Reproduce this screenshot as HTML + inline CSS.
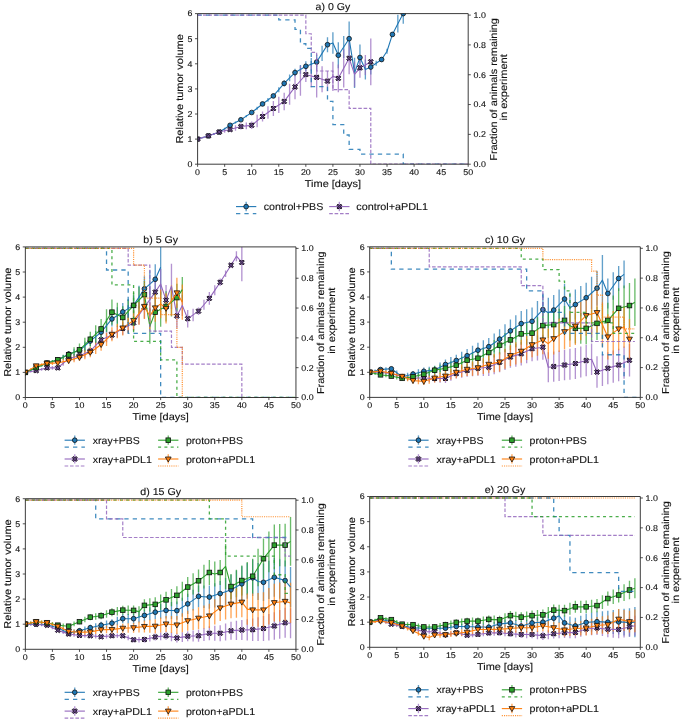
<!DOCTYPE html>
<html><head><meta charset="utf-8"><style>html,body{margin:0;padding:0;background:#fff;overflow:hidden}svg{display:block;filter:blur(0.3px)}text{font-family:"Liberation Sans",sans-serif}</style></head>
<body>
<svg width="685" height="722" viewBox="0 0 685 722" font-family="Liberation Sans, sans-serif" text-rendering="geometricPrecision">
<rect width="685" height="722" fill="#fff"/>
<clipPath id="clip0"><rect x="197.60" y="13.60" width="270.60" height="150.60"/></clipPath>
<g clip-path="url(#clip0)">
<path d="M197.60,138.60V139.60M203.01,136.89V138.05M208.42,135.18V136.49M213.84,133.23V134.68M219.25,131.27V132.88M224.66,127.80V129.56M230.07,124.34V126.25M235.48,121.50V123.56M240.90,118.67V120.88M246.31,114.95V117.31M251.72,111.24V113.75M257.13,106.78V109.67M262.54,102.33V105.59M267.96,98.12V101.76M273.37,93.92V97.94M278.78,87.14V92.16M284.19,80.37V86.39M289.60,74.59V81.37M295.02,68.82V76.35M300.43,65.06V73.84M305.84,61.29V71.33M311.25,57.90V70.45M316.66,54.51V69.57M322.08,45.85V60.91M327.49,37.19V52.25M332.90,32.17V53.76M338.31,42.21V68.32M343.72,35.94V58.03M349.14,21.38V56.02M354.55,57.78V87.90M359.96,44.47V70.58M365.37,59.53V79.61M370.78,59.53V74.59M376.20,60.79V65.81M381.61,57.02V62.04M387.02,48.74V53.76M392.43,31.92V36.94M397.84,14.86V32.43M403.26,3.56V23.64" stroke="#1f77b4" stroke-width="1.35" stroke-opacity="0.7" fill="none"/>
<path d="M197.60,138.60V139.60M203.01,136.78V138.16M208.42,134.96V136.72M213.84,132.89V135.02M219.25,130.82V133.33M224.66,128.93V132.70M230.07,127.05V132.07M235.48,125.29V130.82M240.90,123.54V129.56M246.31,122.53V129.31M251.72,121.53V129.06M257.13,114.63V127.18M262.54,111.49V121.53M267.96,106.22V118.77M273.37,100.95V116.01M278.78,96.81V113.12M284.19,92.66V110.23M289.60,83.63V104.71M295.02,74.59V99.19M300.43,65.68V95.80M305.84,67.06V82.12M311.25,64.68V87.27M316.66,57.27V97.43M322.08,66.18V92.29M327.49,71.08V91.16M332.90,61.79V90.91M338.31,64.55V92.16M343.72,49.24V87.39M349.14,42.21V74.34M354.55,61.79V86.89M359.96,57.78V77.86M365.37,55.01V75.09M370.78,38.45V85.13" stroke="#9467bd" stroke-width="1.35" stroke-opacity="0.7" fill="none"/>
<polyline points="197.60,139.10 203.01,137.47 208.42,135.84 213.84,133.95 219.25,132.07 224.66,128.68 230.07,125.29 235.48,122.53 240.90,119.77 246.31,116.13 251.72,112.49 257.13,108.23 262.54,103.96 267.96,99.94 273.37,95.93 278.78,89.65 284.19,83.38 289.60,77.98 295.02,72.58 300.43,69.45 305.84,66.31 311.25,64.18 316.66,62.04 322.08,53.38 327.49,44.72 332.90,42.97 338.31,55.27 343.72,46.98 349.14,38.70 354.55,72.84 359.96,57.52 365.37,69.57 370.78,67.06 376.20,63.30 381.61,59.53 387.02,51.25 392.43,34.43 397.84,23.64 403.26,13.60" stroke="#1f77b4" stroke-width="1.1" fill="none" stroke-linejoin="round"/>
<circle cx="197.60" cy="139.10" r="2.35" fill="#1f77b4" stroke="#111" stroke-width="0.8"/><circle cx="208.42" cy="135.84" r="2.35" fill="#1f77b4" stroke="#111" stroke-width="0.8"/><circle cx="219.25" cy="132.07" r="2.35" fill="#1f77b4" stroke="#111" stroke-width="0.8"/><circle cx="230.07" cy="125.29" r="2.35" fill="#1f77b4" stroke="#111" stroke-width="0.8"/><circle cx="240.90" cy="119.77" r="2.35" fill="#1f77b4" stroke="#111" stroke-width="0.8"/><circle cx="251.72" cy="112.49" r="2.35" fill="#1f77b4" stroke="#111" stroke-width="0.8"/><circle cx="262.54" cy="103.96" r="2.35" fill="#1f77b4" stroke="#111" stroke-width="0.8"/><circle cx="273.37" cy="95.93" r="2.35" fill="#1f77b4" stroke="#111" stroke-width="0.8"/><circle cx="284.19" cy="83.38" r="2.35" fill="#1f77b4" stroke="#111" stroke-width="0.8"/><circle cx="295.02" cy="72.58" r="2.35" fill="#1f77b4" stroke="#111" stroke-width="0.8"/><circle cx="305.84" cy="66.31" r="2.35" fill="#1f77b4" stroke="#111" stroke-width="0.8"/><circle cx="316.66" cy="62.04" r="2.35" fill="#1f77b4" stroke="#111" stroke-width="0.8"/><circle cx="327.49" cy="44.72" r="2.35" fill="#1f77b4" stroke="#111" stroke-width="0.8"/><circle cx="338.31" cy="55.27" r="2.35" fill="#1f77b4" stroke="#111" stroke-width="0.8"/><circle cx="349.14" cy="38.70" r="2.35" fill="#1f77b4" stroke="#111" stroke-width="0.8"/><circle cx="359.96" cy="57.52" r="2.35" fill="#1f77b4" stroke="#111" stroke-width="0.8"/><circle cx="370.78" cy="67.06" r="2.35" fill="#1f77b4" stroke="#111" stroke-width="0.8"/><circle cx="381.61" cy="59.53" r="2.35" fill="#1f77b4" stroke="#111" stroke-width="0.8"/><circle cx="392.43" cy="34.43" r="2.35" fill="#1f77b4" stroke="#111" stroke-width="0.8"/><circle cx="403.26" cy="13.60" r="2.35" fill="#1f77b4" stroke="#111" stroke-width="0.8"/>
<polyline points="197.60,139.10 203.01,137.47 208.42,135.84 213.84,133.95 219.25,132.07 224.66,130.82 230.07,129.56 235.48,128.06 240.90,126.55 246.31,125.92 251.72,125.29 257.13,120.90 262.54,116.51 267.96,112.49 273.37,108.48 278.78,104.96 284.19,101.45 289.60,94.17 295.02,86.89 300.43,80.74 305.84,74.59 311.25,75.97 316.66,77.35 322.08,79.24 327.49,81.12 332.90,76.35 338.31,78.36 343.72,68.32 349.14,58.28 354.55,74.34 359.96,67.82 365.37,65.05 370.78,61.79" stroke="#9467bd" stroke-width="1.1" fill="none" stroke-linejoin="round"/>
<path d="M196.20,136.65L197.60,138.05L199.00,136.65L200.05,137.70L198.65,139.10L200.05,140.50L199.00,141.55L197.60,140.15L196.20,141.55L195.15,140.50L196.55,139.10L195.15,137.70Z" fill="#6a4a8e" stroke="#1a1020" stroke-width="1.0" stroke-linejoin="round"/><path d="M207.02,133.39L208.42,134.79L209.82,133.39L210.87,134.44L209.47,135.84L210.87,137.24L209.82,138.29L208.42,136.89L207.02,138.29L205.97,137.24L207.37,135.84L205.97,134.44Z" fill="#6a4a8e" stroke="#1a1020" stroke-width="1.0" stroke-linejoin="round"/><path d="M217.85,129.62L219.25,131.02L220.65,129.62L221.70,130.67L220.30,132.07L221.70,133.47L220.65,134.52L219.25,133.12L217.85,134.52L216.80,133.47L218.20,132.07L216.80,130.67Z" fill="#6a4a8e" stroke="#1a1020" stroke-width="1.0" stroke-linejoin="round"/><path d="M228.67,127.11L230.07,128.51L231.47,127.11L232.52,128.16L231.12,129.56L232.52,130.96L231.47,132.01L230.07,130.61L228.67,132.01L227.62,130.96L229.02,129.56L227.62,128.16Z" fill="#6a4a8e" stroke="#1a1020" stroke-width="1.0" stroke-linejoin="round"/><path d="M239.50,124.10L240.90,125.50L242.30,124.10L243.35,125.15L241.95,126.55L243.35,127.95L242.30,129.00L240.90,127.60L239.50,129.00L238.45,127.95L239.85,126.55L238.45,125.15Z" fill="#6a4a8e" stroke="#1a1020" stroke-width="1.0" stroke-linejoin="round"/><path d="M250.32,122.84L251.72,124.24L253.12,122.84L254.17,123.89L252.77,125.29L254.17,126.69L253.12,127.74L251.72,126.34L250.32,127.74L249.27,126.69L250.67,125.29L249.27,123.89Z" fill="#6a4a8e" stroke="#1a1020" stroke-width="1.0" stroke-linejoin="round"/><path d="M261.14,114.06L262.54,115.46L263.94,114.06L264.99,115.11L263.59,116.51L264.99,117.91L263.94,118.96L262.54,117.56L261.14,118.96L260.09,117.91L261.49,116.51L260.09,115.11Z" fill="#6a4a8e" stroke="#1a1020" stroke-width="1.0" stroke-linejoin="round"/><path d="M271.97,106.03L273.37,107.43L274.77,106.03L275.82,107.08L274.42,108.48L275.82,109.88L274.77,110.93L273.37,109.53L271.97,110.93L270.92,109.88L272.32,108.48L270.92,107.08Z" fill="#6a4a8e" stroke="#1a1020" stroke-width="1.0" stroke-linejoin="round"/><path d="M282.79,99.00L284.19,100.40L285.59,99.00L286.64,100.05L285.24,101.45L286.64,102.85L285.59,103.90L284.19,102.50L282.79,103.90L281.74,102.85L283.14,101.45L281.74,100.05Z" fill="#6a4a8e" stroke="#1a1020" stroke-width="1.0" stroke-linejoin="round"/><path d="M293.62,84.44L295.02,85.84L296.42,84.44L297.47,85.49L296.07,86.89L297.47,88.29L296.42,89.34L295.02,87.94L293.62,89.34L292.57,88.29L293.97,86.89L292.57,85.49Z" fill="#6a4a8e" stroke="#1a1020" stroke-width="1.0" stroke-linejoin="round"/><path d="M304.44,72.14L305.84,73.54L307.24,72.14L308.29,73.19L306.89,74.59L308.29,75.99L307.24,77.04L305.84,75.64L304.44,77.04L303.39,75.99L304.79,74.59L303.39,73.19Z" fill="#6a4a8e" stroke="#1a1020" stroke-width="1.0" stroke-linejoin="round"/><path d="M315.26,74.90L316.66,76.30L318.06,74.90L319.11,75.95L317.71,77.35L319.11,78.75L318.06,79.80L316.66,78.40L315.26,79.80L314.21,78.75L315.61,77.35L314.21,75.95Z" fill="#6a4a8e" stroke="#1a1020" stroke-width="1.0" stroke-linejoin="round"/><path d="M326.09,78.67L327.49,80.07L328.89,78.67L329.94,79.72L328.54,81.12L329.94,82.52L328.89,83.57L327.49,82.17L326.09,83.57L325.04,82.52L326.44,81.12L325.04,79.72Z" fill="#6a4a8e" stroke="#1a1020" stroke-width="1.0" stroke-linejoin="round"/><path d="M336.91,75.91L338.31,77.31L339.71,75.91L340.76,76.96L339.36,78.36L340.76,79.76L339.71,80.81L338.31,79.41L336.91,80.81L335.86,79.76L337.26,78.36L335.86,76.96Z" fill="#6a4a8e" stroke="#1a1020" stroke-width="1.0" stroke-linejoin="round"/><path d="M347.74,55.83L349.14,57.23L350.54,55.83L351.59,56.88L350.19,58.28L351.59,59.68L350.54,60.73L349.14,59.33L347.74,60.73L346.69,59.68L348.09,58.28L346.69,56.88Z" fill="#6a4a8e" stroke="#1a1020" stroke-width="1.0" stroke-linejoin="round"/><path d="M358.56,65.37L359.96,66.77L361.36,65.37L362.41,66.42L361.01,67.82L362.41,69.22L361.36,70.27L359.96,68.87L358.56,70.27L357.51,69.22L358.91,67.82L357.51,66.42Z" fill="#6a4a8e" stroke="#1a1020" stroke-width="1.0" stroke-linejoin="round"/><path d="M369.38,59.34L370.78,60.74L372.18,59.34L373.23,60.39L371.83,61.79L373.23,63.19L372.18,64.24L370.78,62.84L369.38,64.24L368.33,63.19L369.73,61.79L368.33,60.39Z" fill="#6a4a8e" stroke="#1a1020" stroke-width="1.0" stroke-linejoin="round"/>
<path d="M197.60,15.10H278.78V19.87H295.02V29.41H300.43V43.73H305.84V48.35H311.25V86.67H327.49V101.28H332.90V124.54H343.72V134.98H349.14V149.29H359.96V154.06H403.26V164.20H468.20V164.20" stroke="#1f77b4" stroke-width="1.3" stroke-dasharray="4.3 4.1" fill="none" stroke-opacity="0.85"/>
<path d="M197.60,15.10H305.84V33.74H311.25V52.38H316.66V71.01H332.90V89.65H349.14V108.29H370.78V164.20H468.20V164.20" stroke="#9467bd" stroke-width="1.2" stroke-dasharray="3.6 1.8" fill="none" stroke-opacity="0.85"/>
</g>
<path d="M197.60,13.60V164.20H468.20V13.60Z" fill="none" stroke="#262626" stroke-width="0.9"/>
<path d="M195.00,164.20H197.60M195.00,139.10H197.60M195.00,114.00H197.60M195.00,88.90H197.60M195.00,63.80H197.60M195.00,38.70H197.60M195.00,13.60H197.60M197.60,164.20V166.80M224.66,164.20V166.80M251.72,164.20V166.80M278.78,164.20V166.80M305.84,164.20V166.80M332.90,164.20V166.80M359.96,164.20V166.80M387.02,164.20V166.80M414.08,164.20V166.80M441.14,164.20V166.80M468.20,164.20V166.80M468.20,164.20H470.80M468.20,134.38H470.80M468.20,104.56H470.80M468.20,74.74H470.80M468.20,44.92H470.80M468.20,15.10H470.80" stroke="#262626" stroke-width="0.8"/>
<text x="192.50" y="167.05" font-size="8.3" text-anchor="end" textLength="4.93" lengthAdjust="spacingAndGlyphs" fill="#111" stroke="#111" stroke-width="0.12">0</text>
<text x="192.50" y="141.95" font-size="8.3" text-anchor="end" textLength="4.93" lengthAdjust="spacingAndGlyphs" fill="#111" stroke="#111" stroke-width="0.12">1</text>
<text x="192.50" y="116.85" font-size="8.3" text-anchor="end" textLength="4.93" lengthAdjust="spacingAndGlyphs" fill="#111" stroke="#111" stroke-width="0.12">2</text>
<text x="192.50" y="91.75" font-size="8.3" text-anchor="end" textLength="4.93" lengthAdjust="spacingAndGlyphs" fill="#111" stroke="#111" stroke-width="0.12">3</text>
<text x="192.50" y="66.65" font-size="8.3" text-anchor="end" textLength="4.93" lengthAdjust="spacingAndGlyphs" fill="#111" stroke="#111" stroke-width="0.12">4</text>
<text x="192.50" y="41.55" font-size="8.3" text-anchor="end" textLength="4.93" lengthAdjust="spacingAndGlyphs" fill="#111" stroke="#111" stroke-width="0.12">5</text>
<text x="192.50" y="16.45" font-size="8.3" text-anchor="end" textLength="4.93" lengthAdjust="spacingAndGlyphs" fill="#111" stroke="#111" stroke-width="0.12">6</text>
<text x="197.60" y="175.10" font-size="8.3" text-anchor="middle" textLength="4.93" lengthAdjust="spacingAndGlyphs" fill="#111" stroke="#111" stroke-width="0.12">0</text>
<text x="224.66" y="175.10" font-size="8.3" text-anchor="middle" textLength="4.93" lengthAdjust="spacingAndGlyphs" fill="#111" stroke="#111" stroke-width="0.12">5</text>
<text x="251.72" y="175.10" font-size="8.3" text-anchor="middle" textLength="9.86" lengthAdjust="spacingAndGlyphs" fill="#111" stroke="#111" stroke-width="0.12">10</text>
<text x="278.78" y="175.10" font-size="8.3" text-anchor="middle" textLength="9.86" lengthAdjust="spacingAndGlyphs" fill="#111" stroke="#111" stroke-width="0.12">15</text>
<text x="305.84" y="175.10" font-size="8.3" text-anchor="middle" textLength="9.86" lengthAdjust="spacingAndGlyphs" fill="#111" stroke="#111" stroke-width="0.12">20</text>
<text x="332.90" y="175.10" font-size="8.3" text-anchor="middle" textLength="9.86" lengthAdjust="spacingAndGlyphs" fill="#111" stroke="#111" stroke-width="0.12">25</text>
<text x="359.96" y="175.10" font-size="8.3" text-anchor="middle" textLength="9.86" lengthAdjust="spacingAndGlyphs" fill="#111" stroke="#111" stroke-width="0.12">30</text>
<text x="387.02" y="175.10" font-size="8.3" text-anchor="middle" textLength="9.86" lengthAdjust="spacingAndGlyphs" fill="#111" stroke="#111" stroke-width="0.12">35</text>
<text x="414.08" y="175.10" font-size="8.3" text-anchor="middle" textLength="9.86" lengthAdjust="spacingAndGlyphs" fill="#111" stroke="#111" stroke-width="0.12">40</text>
<text x="441.14" y="175.10" font-size="8.3" text-anchor="middle" textLength="9.86" lengthAdjust="spacingAndGlyphs" fill="#111" stroke="#111" stroke-width="0.12">45</text>
<text x="468.20" y="175.10" font-size="8.3" text-anchor="middle" textLength="9.86" lengthAdjust="spacingAndGlyphs" fill="#111" stroke="#111" stroke-width="0.12">50</text>
<text x="473.50" y="167.05" font-size="8.3" text-anchor="start" textLength="12.33" lengthAdjust="spacingAndGlyphs" fill="#111" stroke="#111" stroke-width="0.12">0.0</text>
<text x="473.50" y="137.23" font-size="8.3" text-anchor="start" textLength="12.33" lengthAdjust="spacingAndGlyphs" fill="#111" stroke="#111" stroke-width="0.12">0.2</text>
<text x="473.50" y="107.41" font-size="8.3" text-anchor="start" textLength="12.33" lengthAdjust="spacingAndGlyphs" fill="#111" stroke="#111" stroke-width="0.12">0.4</text>
<text x="473.50" y="77.59" font-size="8.3" text-anchor="start" textLength="12.33" lengthAdjust="spacingAndGlyphs" fill="#111" stroke="#111" stroke-width="0.12">0.6</text>
<text x="473.50" y="47.77" font-size="8.3" text-anchor="start" textLength="12.33" lengthAdjust="spacingAndGlyphs" fill="#111" stroke="#111" stroke-width="0.12">0.8</text>
<text x="473.50" y="17.95" font-size="8.3" text-anchor="start" textLength="12.33" lengthAdjust="spacingAndGlyphs" fill="#111" stroke="#111" stroke-width="0.12">1.0</text>
<text x="332.90" y="9.90" font-size="10.0" text-anchor="middle" textLength="34.60" lengthAdjust="spacingAndGlyphs" fill="#111" stroke="#111" stroke-width="0.12">a) 0 Gy</text>
<text x="332.90" y="186.80" font-size="10.0" text-anchor="middle" textLength="56.10" lengthAdjust="spacingAndGlyphs" fill="#111" stroke="#111" stroke-width="0.12">Time [days]</text>
<text x="183.00" y="88.90" font-size="10.0" text-anchor="middle" textLength="109.34" lengthAdjust="spacingAndGlyphs" fill="#111" stroke="#111" stroke-width="0.12" transform="rotate(-90 183.00 88.90)">Relative tumor volume</text>
<text x="496.60" y="89.40" font-size="10.0" text-anchor="middle" textLength="142.67" lengthAdjust="spacingAndGlyphs" fill="#111" stroke="#111" stroke-width="0.12" transform="rotate(-90 496.60 89.40)">Fraction of animals remaining</text>
<text x="507.30" y="87.40" font-size="10.0" text-anchor="middle" textLength="66.25" lengthAdjust="spacingAndGlyphs" fill="#111" stroke="#111" stroke-width="0.12" transform="rotate(-90 507.30 87.40)">in experiment</text>
<clipPath id="clip1"><rect x="25.35" y="246.90" width="270.60" height="150.60"/></clipPath>
<g clip-path="url(#clip1)">
<path d="M25.35,371.65V373.15M30.76,369.01V370.77M36.17,366.38V368.38M41.59,364.12V366.38M47.00,361.86V364.37M52.41,360.10V362.86M57.82,358.34V361.36M63.23,354.96V358.97M68.65,351.57V356.59M74.06,349.18V355.46M79.47,346.80V354.33M84.88,341.40V350.19M90.29,336.00V346.05M95.71,330.99V342.28M101.12,325.97V338.51M106.53,318.69V332.49M111.94,311.41V326.47M117.35,307.27V323.58M122.77,303.12V320.69M128.18,299.23V318.06M133.59,295.34V315.42M139.00,285.81V308.39M144.41,276.27V301.37M149.83,270.24V297.85M155.24,264.22V294.34M160.65,239.62V294.84" stroke="#1f77b4" stroke-width="1.35" stroke-opacity="0.7" fill="none"/>
<path d="M25.35,371.65V373.15M30.76,370.56V372.48M36.17,369.47V371.81M41.59,367.88V370.64M47.00,366.29V369.47M52.41,366.08V369.68M57.82,365.87V369.89M63.23,360.79V365.69M68.65,355.71V361.48M74.06,353.89V360.54M79.47,352.07V359.60M84.88,349.48V357.42M90.29,346.88V355.25M95.71,341.02V349.81M101.12,335.17V344.37M106.53,332.57V342.20M111.94,329.98V340.02M117.35,326.09V337.39M122.77,322.20V334.75M128.18,318.81V332.62M133.59,315.42V330.48M139.00,305.63V324.46M144.41,295.85V318.44M149.83,286.43V312.79M155.24,277.02V307.14M160.65,268.99V299.11M166.06,285.05V315.17M171.47,263.72V308.90M176.89,303.38V328.48M182.30,294.72V316.05M187.71,309.90V327.47M193.12,308.65V321.20M198.53,307.39V314.92M203.95,299.74V309.78M209.36,292.08V304.63M214.77,285.30V295.34M220.18,278.53V286.06M225.59,270.62V276.89M231.01,262.71V267.73M236.42,251.17V261.21M241.83,243.64V281.29" stroke="#9467bd" stroke-width="1.35" stroke-opacity="0.7" fill="none"/>
<path d="M25.35,371.65V373.15M30.76,369.14V370.89M36.17,366.63V368.63M41.59,364.24V366.50M47.00,361.86V364.37M52.41,360.10V362.86M57.82,358.34V361.36M63.23,354.70V359.98M68.65,351.06V358.60M74.06,347.30V357.34M79.47,343.54V356.09M84.88,337.64V351.44M90.29,331.74V346.80M95.71,325.34V342.91M101.12,318.94V339.02M106.53,309.27V331.86M111.94,299.61V324.71M117.35,302.87V326.72M122.77,306.14V328.73M128.18,299.48V323.33M133.59,292.83V317.93M139.00,286.81V313.16M144.41,280.79V308.39M149.83,308.65V343.79M155.24,292.08V332.24M160.65,291.70V326.84M166.06,291.33V321.45M171.47,287.56V316.43M176.89,283.80V311.41M182.30,277.02V302.12" stroke="#2ca02c" stroke-width="1.35" stroke-opacity="0.7" fill="none"/>
<path d="M25.35,371.65V373.15M30.76,368.17V370.10M36.17,364.70V367.05M41.59,363.24V366.00M47.00,361.77V364.95M52.41,361.31V364.91M57.82,360.85V364.87M63.23,359.29V364.18M68.65,357.72V363.49M74.06,355.65V362.30M79.47,353.57V361.11M84.88,350.44V359.22M90.29,347.30V357.34M95.71,342.78V354.08M101.12,338.26V350.81M106.53,332.80V345.98M111.94,327.35V341.15M117.35,323.89V338.33M122.77,320.44V335.50M128.18,315.42V332.99M133.59,310.40V330.48M139.00,302.12V324.71M144.41,293.84V318.94M149.83,302.75V329.10M155.24,294.09V321.70M160.65,289.44V318.31M166.06,293.34V323.46M171.47,285.55V315.67M176.89,277.77V307.89M182.30,284.55V319.69" stroke="#ff7f0e" stroke-width="1.35" stroke-opacity="0.7" fill="none"/>
<polyline points="25.35,372.40 30.76,369.89 36.17,367.38 41.59,365.25 47.00,363.11 52.41,361.48 57.82,359.85 63.23,356.96 68.65,354.08 74.06,352.32 79.47,350.56 84.88,345.79 90.29,341.02 95.71,336.63 101.12,332.24 106.53,325.59 111.94,318.94 117.35,315.42 122.77,311.91 128.18,308.65 133.59,305.38 139.00,297.10 144.41,288.82 149.83,284.05 155.24,279.28 160.65,267.23" stroke="#1f77b4" stroke-width="1.1" fill="none" stroke-linejoin="round"/>
<circle cx="25.35" cy="372.40" r="2.35" fill="#1f77b4" stroke="#111" stroke-width="0.8"/><circle cx="36.17" cy="367.38" r="2.35" fill="#1f77b4" stroke="#111" stroke-width="0.8"/><circle cx="47.00" cy="363.11" r="2.35" fill="#1f77b4" stroke="#111" stroke-width="0.8"/><circle cx="57.82" cy="359.85" r="2.35" fill="#1f77b4" stroke="#111" stroke-width="0.8"/><circle cx="68.65" cy="354.08" r="2.35" fill="#1f77b4" stroke="#111" stroke-width="0.8"/><circle cx="79.47" cy="350.56" r="2.35" fill="#1f77b4" stroke="#111" stroke-width="0.8"/><circle cx="90.29" cy="341.02" r="2.35" fill="#1f77b4" stroke="#111" stroke-width="0.8"/><circle cx="101.12" cy="332.24" r="2.35" fill="#1f77b4" stroke="#111" stroke-width="0.8"/><circle cx="111.94" cy="318.94" r="2.35" fill="#1f77b4" stroke="#111" stroke-width="0.8"/><circle cx="122.77" cy="311.91" r="2.35" fill="#1f77b4" stroke="#111" stroke-width="0.8"/><circle cx="133.59" cy="305.38" r="2.35" fill="#1f77b4" stroke="#111" stroke-width="0.8"/><circle cx="144.41" cy="288.82" r="2.35" fill="#1f77b4" stroke="#111" stroke-width="0.8"/><circle cx="155.24" cy="279.28" r="2.35" fill="#1f77b4" stroke="#111" stroke-width="0.8"/>
<polyline points="25.35,372.40 30.76,371.52 36.17,370.64 41.59,369.26 47.00,367.88 52.41,367.88 57.82,367.88 63.23,363.24 68.65,358.60 74.06,357.21 79.47,355.83 84.88,353.45 90.29,351.06 95.71,345.42 101.12,339.77 106.53,337.39 111.94,335.00 117.35,331.74 122.77,328.48 128.18,325.71 133.59,322.95 139.00,315.05 144.41,307.14 149.83,299.61 155.24,292.08 160.65,284.05 166.06,300.11 171.47,286.31 176.89,315.93 182.30,305.38 187.71,318.69 193.12,314.92 198.53,311.16 203.95,304.76 209.36,298.36 214.77,290.32 220.18,282.29 225.59,273.76 231.01,265.22 236.42,256.19 241.83,262.46" stroke="#9467bd" stroke-width="1.1" fill="none" stroke-linejoin="round"/>
<path d="M23.95,369.95L25.35,371.35L26.75,369.95L27.80,371.00L26.40,372.40L27.80,373.80L26.75,374.85L25.35,373.45L23.95,374.85L22.90,373.80L24.30,372.40L22.90,371.00Z" fill="#6a4a8e" stroke="#1a1020" stroke-width="1.0" stroke-linejoin="round"/><path d="M34.77,368.19L36.17,369.59L37.57,368.19L38.62,369.24L37.22,370.64L38.62,372.04L37.57,373.09L36.17,371.69L34.77,373.09L33.72,372.04L35.12,370.64L33.72,369.24Z" fill="#6a4a8e" stroke="#1a1020" stroke-width="1.0" stroke-linejoin="round"/><path d="M45.60,365.43L47.00,366.83L48.40,365.43L49.45,366.48L48.05,367.88L49.45,369.28L48.40,370.33L47.00,368.93L45.60,370.33L44.55,369.28L45.95,367.88L44.55,366.48Z" fill="#6a4a8e" stroke="#1a1020" stroke-width="1.0" stroke-linejoin="round"/><path d="M56.42,365.43L57.82,366.83L59.22,365.43L60.27,366.48L58.87,367.88L60.27,369.28L59.22,370.33L57.82,368.93L56.42,370.33L55.37,369.28L56.77,367.88L55.37,366.48Z" fill="#6a4a8e" stroke="#1a1020" stroke-width="1.0" stroke-linejoin="round"/><path d="M67.25,356.15L68.65,357.55L70.05,356.15L71.10,357.20L69.70,358.60L71.10,360.00L70.05,361.05L68.65,359.65L67.25,361.05L66.20,360.00L67.60,358.60L66.20,357.20Z" fill="#6a4a8e" stroke="#1a1020" stroke-width="1.0" stroke-linejoin="round"/><path d="M78.07,353.38L79.47,354.78L80.87,353.38L81.92,354.43L80.52,355.83L81.92,357.23L80.87,358.28L79.47,356.88L78.07,358.28L77.02,357.23L78.42,355.83L77.02,354.43Z" fill="#6a4a8e" stroke="#1a1020" stroke-width="1.0" stroke-linejoin="round"/><path d="M88.89,348.62L90.29,350.01L91.69,348.62L92.74,349.67L91.34,351.06L92.74,352.46L91.69,353.51L90.29,352.12L88.89,353.51L87.84,352.46L89.24,351.06L87.84,349.67Z" fill="#6a4a8e" stroke="#1a1020" stroke-width="1.0" stroke-linejoin="round"/><path d="M99.72,337.32L101.12,338.72L102.52,337.32L103.57,338.37L102.17,339.77L103.57,341.17L102.52,342.22L101.12,340.82L99.72,342.22L98.67,341.17L100.07,339.77L98.67,338.37Z" fill="#6a4a8e" stroke="#1a1020" stroke-width="1.0" stroke-linejoin="round"/><path d="M110.54,332.55L111.94,333.95L113.34,332.55L114.39,333.60L112.99,335.00L114.39,336.40L113.34,337.45L111.94,336.05L110.54,337.45L109.49,336.40L110.89,335.00L109.49,333.60Z" fill="#6a4a8e" stroke="#1a1020" stroke-width="1.0" stroke-linejoin="round"/><path d="M121.37,326.03L122.77,327.43L124.17,326.03L125.22,327.08L123.82,328.48L125.22,329.88L124.17,330.93L122.77,329.53L121.37,330.93L120.32,329.88L121.72,328.48L120.32,327.08Z" fill="#6a4a8e" stroke="#1a1020" stroke-width="1.0" stroke-linejoin="round"/><path d="M132.19,320.50L133.59,321.90L134.99,320.50L136.04,321.55L134.64,322.95L136.04,324.35L134.99,325.40L133.59,324.00L132.19,325.40L131.14,324.35L132.54,322.95L131.14,321.55Z" fill="#6a4a8e" stroke="#1a1020" stroke-width="1.0" stroke-linejoin="round"/><path d="M143.01,304.69L144.41,306.09L145.81,304.69L146.86,305.74L145.46,307.14L146.86,308.54L145.81,309.59L144.41,308.19L143.01,309.59L141.96,308.54L143.36,307.14L141.96,305.74Z" fill="#6a4a8e" stroke="#1a1020" stroke-width="1.0" stroke-linejoin="round"/><path d="M153.84,289.63L155.24,291.03L156.64,289.63L157.69,290.68L156.29,292.08L157.69,293.48L156.64,294.53L155.24,293.13L153.84,294.53L152.79,293.48L154.19,292.08L152.79,290.68Z" fill="#6a4a8e" stroke="#1a1020" stroke-width="1.0" stroke-linejoin="round"/><path d="M164.66,297.66L166.06,299.06L167.46,297.66L168.51,298.71L167.11,300.11L168.51,301.51L167.46,302.56L166.06,301.16L164.66,302.56L163.61,301.51L165.01,300.11L163.61,298.71Z" fill="#6a4a8e" stroke="#1a1020" stroke-width="1.0" stroke-linejoin="round"/><path d="M175.49,313.48L176.89,314.88L178.29,313.48L179.34,314.53L177.94,315.93L179.34,317.32L178.29,318.38L176.89,316.98L175.49,318.38L174.44,317.32L175.84,315.93L174.44,314.53Z" fill="#6a4a8e" stroke="#1a1020" stroke-width="1.0" stroke-linejoin="round"/><path d="M186.31,316.24L187.71,317.64L189.11,316.24L190.16,317.29L188.76,318.69L190.16,320.09L189.11,321.14L187.71,319.74L186.31,321.14L185.26,320.09L186.66,318.69L185.26,317.29Z" fill="#6a4a8e" stroke="#1a1020" stroke-width="1.0" stroke-linejoin="round"/><path d="M197.13,308.71L198.53,310.11L199.93,308.71L200.98,309.76L199.58,311.16L200.98,312.56L199.93,313.61L198.53,312.21L197.13,313.61L196.08,312.56L197.48,311.16L196.08,309.76Z" fill="#6a4a8e" stroke="#1a1020" stroke-width="1.0" stroke-linejoin="round"/><path d="M207.96,295.91L209.36,297.31L210.76,295.91L211.81,296.96L210.41,298.36L211.81,299.75L210.76,300.81L209.36,299.41L207.96,300.81L206.91,299.75L208.31,298.36L206.91,296.96Z" fill="#6a4a8e" stroke="#1a1020" stroke-width="1.0" stroke-linejoin="round"/><path d="M218.78,279.84L220.18,281.24L221.58,279.84L222.63,280.89L221.23,282.29L222.63,283.69L221.58,284.74L220.18,283.34L218.78,284.74L217.73,283.69L219.13,282.29L217.73,280.89Z" fill="#6a4a8e" stroke="#1a1020" stroke-width="1.0" stroke-linejoin="round"/><path d="M229.61,262.77L231.01,264.17L232.41,262.77L233.46,263.82L232.06,265.22L233.46,266.62L232.41,267.67L231.01,266.27L229.61,267.67L228.56,266.62L229.96,265.22L228.56,263.82Z" fill="#6a4a8e" stroke="#1a1020" stroke-width="1.0" stroke-linejoin="round"/><path d="M240.43,260.01L241.83,261.41L243.23,260.01L244.28,261.06L242.88,262.46L244.28,263.86L243.23,264.91L241.83,263.51L240.43,264.91L239.38,263.86L240.78,262.46L239.38,261.06Z" fill="#6a4a8e" stroke="#1a1020" stroke-width="1.0" stroke-linejoin="round"/>
<polyline points="25.35,372.40 30.76,370.02 36.17,367.63 41.59,365.37 47.00,363.11 52.41,361.48 57.82,359.85 63.23,357.34 68.65,354.83 74.06,352.32 79.47,349.81 84.88,344.54 90.29,339.27 95.71,334.12 101.12,328.98 106.53,320.57 111.94,312.16 117.35,314.80 122.77,317.43 128.18,311.41 133.59,305.38 139.00,299.99 144.41,294.59 149.83,326.22 155.24,312.16 160.65,309.27 166.06,306.39 171.47,301.99 176.89,297.60 182.30,289.57" stroke="#2ca02c" stroke-width="1.1" fill="none" stroke-linejoin="round"/>
<rect x="23.05" y="370.10" width="4.60" height="4.60" fill="#2ca02c" stroke="#111" stroke-width="0.8"/><rect x="33.87" y="365.33" width="4.60" height="4.60" fill="#2ca02c" stroke="#111" stroke-width="0.8"/><rect x="44.70" y="360.81" width="4.60" height="4.60" fill="#2ca02c" stroke="#111" stroke-width="0.8"/><rect x="55.52" y="357.55" width="4.60" height="4.60" fill="#2ca02c" stroke="#111" stroke-width="0.8"/><rect x="66.35" y="352.53" width="4.60" height="4.60" fill="#2ca02c" stroke="#111" stroke-width="0.8"/><rect x="77.17" y="347.51" width="4.60" height="4.60" fill="#2ca02c" stroke="#111" stroke-width="0.8"/><rect x="87.99" y="336.97" width="4.60" height="4.60" fill="#2ca02c" stroke="#111" stroke-width="0.8"/><rect x="98.82" y="326.68" width="4.60" height="4.60" fill="#2ca02c" stroke="#111" stroke-width="0.8"/><rect x="109.64" y="309.86" width="4.60" height="4.60" fill="#2ca02c" stroke="#111" stroke-width="0.8"/><rect x="120.47" y="315.13" width="4.60" height="4.60" fill="#2ca02c" stroke="#111" stroke-width="0.8"/><rect x="131.29" y="303.08" width="4.60" height="4.60" fill="#2ca02c" stroke="#111" stroke-width="0.8"/><rect x="142.11" y="292.29" width="4.60" height="4.60" fill="#2ca02c" stroke="#111" stroke-width="0.8"/><rect x="152.94" y="309.86" width="4.60" height="4.60" fill="#2ca02c" stroke="#111" stroke-width="0.8"/><rect x="163.76" y="304.09" width="4.60" height="4.60" fill="#2ca02c" stroke="#111" stroke-width="0.8"/><rect x="174.59" y="295.30" width="4.60" height="4.60" fill="#2ca02c" stroke="#111" stroke-width="0.8"/>
<polyline points="25.35,372.40 30.76,369.14 36.17,365.87 41.59,364.62 47.00,363.36 52.41,363.11 57.82,362.86 63.23,361.73 68.65,360.60 74.06,358.97 79.47,357.34 84.88,354.83 90.29,352.32 95.71,348.43 101.12,344.54 106.53,339.39 111.94,334.25 117.35,331.11 122.77,327.97 128.18,324.21 133.59,320.44 139.00,313.42 144.41,306.39 149.83,315.93 155.24,307.89 160.65,303.88 166.06,308.39 171.47,300.61 176.89,292.83 182.30,302.12" stroke="#ff7f0e" stroke-width="1.1" fill="none" stroke-linejoin="round"/>
<path d="M22.45,370.40L28.25,370.40L25.35,375.40Z" fill="#ff7f0e" stroke="#111" stroke-width="0.8" stroke-linejoin="miter"/><path d="M33.27,363.87L39.07,363.87L36.17,368.87Z" fill="#ff7f0e" stroke="#111" stroke-width="0.8" stroke-linejoin="miter"/><path d="M44.10,361.36L49.90,361.36L47.00,366.36Z" fill="#ff7f0e" stroke="#111" stroke-width="0.8" stroke-linejoin="miter"/><path d="M54.92,360.86L60.72,360.86L57.82,365.86Z" fill="#ff7f0e" stroke="#111" stroke-width="0.8" stroke-linejoin="miter"/><path d="M65.75,358.60L71.55,358.60L68.65,363.60Z" fill="#ff7f0e" stroke="#111" stroke-width="0.8" stroke-linejoin="miter"/><path d="M76.57,355.34L82.37,355.34L79.47,360.34Z" fill="#ff7f0e" stroke="#111" stroke-width="0.8" stroke-linejoin="miter"/><path d="M87.39,350.32L93.19,350.32L90.29,355.32Z" fill="#ff7f0e" stroke="#111" stroke-width="0.8" stroke-linejoin="miter"/><path d="M98.22,342.54L104.02,342.54L101.12,347.54Z" fill="#ff7f0e" stroke="#111" stroke-width="0.8" stroke-linejoin="miter"/><path d="M109.04,332.25L114.84,332.25L111.94,337.25Z" fill="#ff7f0e" stroke="#111" stroke-width="0.8" stroke-linejoin="miter"/><path d="M119.87,325.97L125.67,325.97L122.77,330.97Z" fill="#ff7f0e" stroke="#111" stroke-width="0.8" stroke-linejoin="miter"/><path d="M130.69,318.44L136.49,318.44L133.59,323.44Z" fill="#ff7f0e" stroke="#111" stroke-width="0.8" stroke-linejoin="miter"/><path d="M141.51,304.39L147.31,304.39L144.41,309.39Z" fill="#ff7f0e" stroke="#111" stroke-width="0.8" stroke-linejoin="miter"/><path d="M152.34,305.89L158.14,305.89L155.24,310.89Z" fill="#ff7f0e" stroke="#111" stroke-width="0.8" stroke-linejoin="miter"/><path d="M163.16,306.39L168.96,306.39L166.06,311.39Z" fill="#ff7f0e" stroke="#111" stroke-width="0.8" stroke-linejoin="miter"/><path d="M173.99,290.83L179.79,290.83L176.89,295.83Z" fill="#ff7f0e" stroke="#111" stroke-width="0.8" stroke-linejoin="miter"/>
<path d="M25.35,248.40H106.53V270.02H128.18V333.39H160.65V397.50H295.95V397.50" stroke="#1f77b4" stroke-width="1.3" stroke-dasharray="4.3 4.1" fill="none" stroke-opacity="0.85"/>
<path d="M25.35,248.40H128.18V265.10H149.83V331.15H171.47V347.40H182.30V364.10H241.83V397.50H295.95V397.50" stroke="#9467bd" stroke-width="1.2" stroke-dasharray="3.6 1.8" fill="none" stroke-opacity="0.85"/>
<path d="M25.35,248.40H111.94V284.93H133.59V341.29H160.65V359.93H176.89V397.50H295.95V397.50" stroke="#2ca02c" stroke-width="1.3" stroke-dasharray="3.0 3.3" fill="none" stroke-opacity="0.85"/>
<path d="M25.35,248.40H133.59V265.10H144.41V298.05H160.65V314.60H176.89V347.40H182.30V397.50H295.95V397.50" stroke="#ff7f0e" stroke-width="1.2" stroke-dasharray="1.1 1.1" fill="none" stroke-opacity="0.85"/>
</g>
<path d="M25.35,246.90V397.50H295.95V246.90Z" fill="none" stroke="#262626" stroke-width="0.9"/>
<path d="M22.75,397.50H25.35M22.75,372.40H25.35M22.75,347.30H25.35M22.75,322.20H25.35M22.75,297.10H25.35M22.75,272.00H25.35M22.75,246.90H25.35M25.35,397.50V400.10M52.41,397.50V400.10M79.47,397.50V400.10M106.53,397.50V400.10M133.59,397.50V400.10M160.65,397.50V400.10M187.71,397.50V400.10M214.77,397.50V400.10M241.83,397.50V400.10M268.89,397.50V400.10M295.95,397.50V400.10M295.95,397.50H298.55M295.95,367.68H298.55M295.95,337.86H298.55M295.95,308.04H298.55M295.95,278.22H298.55M295.95,248.40H298.55" stroke="#262626" stroke-width="0.8"/>
<text x="20.25" y="400.35" font-size="8.3" text-anchor="end" textLength="4.93" lengthAdjust="spacingAndGlyphs" fill="#111" stroke="#111" stroke-width="0.12">0</text>
<text x="20.25" y="375.25" font-size="8.3" text-anchor="end" textLength="4.93" lengthAdjust="spacingAndGlyphs" fill="#111" stroke="#111" stroke-width="0.12">1</text>
<text x="20.25" y="350.15" font-size="8.3" text-anchor="end" textLength="4.93" lengthAdjust="spacingAndGlyphs" fill="#111" stroke="#111" stroke-width="0.12">2</text>
<text x="20.25" y="325.05" font-size="8.3" text-anchor="end" textLength="4.93" lengthAdjust="spacingAndGlyphs" fill="#111" stroke="#111" stroke-width="0.12">3</text>
<text x="20.25" y="299.95" font-size="8.3" text-anchor="end" textLength="4.93" lengthAdjust="spacingAndGlyphs" fill="#111" stroke="#111" stroke-width="0.12">4</text>
<text x="20.25" y="274.85" font-size="8.3" text-anchor="end" textLength="4.93" lengthAdjust="spacingAndGlyphs" fill="#111" stroke="#111" stroke-width="0.12">5</text>
<text x="20.25" y="249.75" font-size="8.3" text-anchor="end" textLength="4.93" lengthAdjust="spacingAndGlyphs" fill="#111" stroke="#111" stroke-width="0.12">6</text>
<text x="25.35" y="408.40" font-size="8.3" text-anchor="middle" textLength="4.93" lengthAdjust="spacingAndGlyphs" fill="#111" stroke="#111" stroke-width="0.12">0</text>
<text x="52.41" y="408.40" font-size="8.3" text-anchor="middle" textLength="4.93" lengthAdjust="spacingAndGlyphs" fill="#111" stroke="#111" stroke-width="0.12">5</text>
<text x="79.47" y="408.40" font-size="8.3" text-anchor="middle" textLength="9.86" lengthAdjust="spacingAndGlyphs" fill="#111" stroke="#111" stroke-width="0.12">10</text>
<text x="106.53" y="408.40" font-size="8.3" text-anchor="middle" textLength="9.86" lengthAdjust="spacingAndGlyphs" fill="#111" stroke="#111" stroke-width="0.12">15</text>
<text x="133.59" y="408.40" font-size="8.3" text-anchor="middle" textLength="9.86" lengthAdjust="spacingAndGlyphs" fill="#111" stroke="#111" stroke-width="0.12">20</text>
<text x="160.65" y="408.40" font-size="8.3" text-anchor="middle" textLength="9.86" lengthAdjust="spacingAndGlyphs" fill="#111" stroke="#111" stroke-width="0.12">25</text>
<text x="187.71" y="408.40" font-size="8.3" text-anchor="middle" textLength="9.86" lengthAdjust="spacingAndGlyphs" fill="#111" stroke="#111" stroke-width="0.12">30</text>
<text x="214.77" y="408.40" font-size="8.3" text-anchor="middle" textLength="9.86" lengthAdjust="spacingAndGlyphs" fill="#111" stroke="#111" stroke-width="0.12">35</text>
<text x="241.83" y="408.40" font-size="8.3" text-anchor="middle" textLength="9.86" lengthAdjust="spacingAndGlyphs" fill="#111" stroke="#111" stroke-width="0.12">40</text>
<text x="268.89" y="408.40" font-size="8.3" text-anchor="middle" textLength="9.86" lengthAdjust="spacingAndGlyphs" fill="#111" stroke="#111" stroke-width="0.12">45</text>
<text x="295.95" y="408.40" font-size="8.3" text-anchor="middle" textLength="9.86" lengthAdjust="spacingAndGlyphs" fill="#111" stroke="#111" stroke-width="0.12">50</text>
<text x="301.25" y="400.35" font-size="8.3" text-anchor="start" textLength="12.33" lengthAdjust="spacingAndGlyphs" fill="#111" stroke="#111" stroke-width="0.12">0.0</text>
<text x="301.25" y="370.53" font-size="8.3" text-anchor="start" textLength="12.33" lengthAdjust="spacingAndGlyphs" fill="#111" stroke="#111" stroke-width="0.12">0.2</text>
<text x="301.25" y="340.71" font-size="8.3" text-anchor="start" textLength="12.33" lengthAdjust="spacingAndGlyphs" fill="#111" stroke="#111" stroke-width="0.12">0.4</text>
<text x="301.25" y="310.89" font-size="8.3" text-anchor="start" textLength="12.33" lengthAdjust="spacingAndGlyphs" fill="#111" stroke="#111" stroke-width="0.12">0.6</text>
<text x="301.25" y="281.07" font-size="8.3" text-anchor="start" textLength="12.33" lengthAdjust="spacingAndGlyphs" fill="#111" stroke="#111" stroke-width="0.12">0.8</text>
<text x="301.25" y="251.25" font-size="8.3" text-anchor="start" textLength="12.33" lengthAdjust="spacingAndGlyphs" fill="#111" stroke="#111" stroke-width="0.12">1.0</text>
<text x="160.65" y="243.20" font-size="10.0" text-anchor="middle" textLength="34.80" lengthAdjust="spacingAndGlyphs" fill="#111" stroke="#111" stroke-width="0.12">b) 5 Gy</text>
<text x="160.65" y="420.10" font-size="10.0" text-anchor="middle" textLength="56.10" lengthAdjust="spacingAndGlyphs" fill="#111" stroke="#111" stroke-width="0.12">Time [days]</text>
<text x="10.75" y="322.20" font-size="10.0" text-anchor="middle" textLength="109.34" lengthAdjust="spacingAndGlyphs" fill="#111" stroke="#111" stroke-width="0.12" transform="rotate(-90 10.75 322.20)">Relative tumor volume</text>
<text x="324.35" y="322.70" font-size="10.0" text-anchor="middle" textLength="142.67" lengthAdjust="spacingAndGlyphs" fill="#111" stroke="#111" stroke-width="0.12" transform="rotate(-90 324.35 322.70)">Fraction of animals remaining</text>
<text x="335.05" y="320.70" font-size="10.0" text-anchor="middle" textLength="66.25" lengthAdjust="spacingAndGlyphs" fill="#111" stroke="#111" stroke-width="0.12" transform="rotate(-90 335.05 320.70)">in experiment</text>
<clipPath id="clip2"><rect x="369.70" y="246.80" width="270.60" height="150.60"/></clipPath>
<g clip-path="url(#clip2)">
<path d="M369.70,371.04V373.56M375.11,369.44V372.39M380.52,367.84V371.23M385.94,367.25V371.08M391.35,366.65V370.92M396.76,370.45V375.16M402.17,374.25V379.39M407.58,372.65V378.23M413.00,371.04V377.07M418.41,369.33V376.02M423.82,367.61V374.98M429.23,366.65V374.68M434.64,365.69V374.39M440.06,362.59V371.97M445.47,359.50V369.54M450.88,357.07V367.95M456.29,354.65V366.36M461.70,351.84V364.39M467.12,349.04V362.43M472.53,345.86V360.08M477.94,342.68V357.74M483.35,340.30V356.61M488.76,337.91V355.48M494.18,333.52V352.35M499.59,329.13V349.21M505.00,324.36V345.69M510.41,319.59V342.18M515.82,315.32V339.17M521.24,311.06V336.16M526.65,309.30V335.65M532.06,307.54V335.15M537.47,301.02V329.88M542.88,294.49V324.61M548.30,297.75V327.87M553.71,294.99V325.11M559.12,289.47V319.59M564.53,283.95V314.07M569.94,292.73V322.85M575.36,289.47V319.59M580.77,286.08V316.20M586.18,282.69V312.81M591.59,276.67V309.30M597.00,270.64V305.79M602.42,255.08V305.28M607.83,278.43V308.55M613.24,272.15V299.76M618.65,265.88V290.98M624.06,260.61V288.21" stroke="#1f77b4" stroke-width="1.35" stroke-opacity="0.7" fill="none"/>
<path d="M369.70,371.04V373.56M375.11,370.83V373.77M380.52,370.61V373.99M385.94,371.01V374.84M391.35,371.42V375.69M396.76,372.83V377.54M402.17,374.25V379.39M407.58,374.65V380.24M413.00,375.06V381.08M418.41,374.81V381.34M423.82,374.56V381.59M429.23,374.56V382.09M434.64,374.56V382.59M440.06,374.31V382.84M445.47,374.06V383.09M450.88,371.30V380.83M456.29,368.53V378.57M461.70,366.40V377.70M467.12,364.27V376.82M472.53,362.51V376.32M477.94,360.75V375.81M483.35,359.62V375.94M488.76,358.50V376.06M494.18,355.36V374.18M499.59,352.22V372.30M505.00,349.17V370.08M510.41,346.11V367.87M515.82,344.06V366.65M521.24,342.01V365.44M526.65,339.08V363.35M532.06,336.16V361.26M537.47,335.40V360.50M542.88,334.65V359.75M548.30,352.22V382.34M553.71,351.38V381.67M559.12,350.55V381.00M564.53,349.71V380.33M569.94,348.87V379.66M575.36,348.04V378.99M580.77,346.45V377.57M586.18,344.86V376.15M591.59,343.52V374.98M597.00,356.24V387.86M602.42,354.27V386.06M607.83,352.30V384.26M613.24,350.59V382.72M618.65,348.87V381.17M624.06,346.41V378.87M629.48,343.94V376.57" stroke="#9467bd" stroke-width="1.35" stroke-opacity="0.7" fill="none"/>
<path d="M369.70,371.04V373.56M375.11,372.08V375.03M380.52,373.12V376.50M385.94,373.52V377.35M391.35,373.93V378.20M396.76,374.84V379.55M402.17,375.75V380.90M407.58,374.78V380.36M413.00,373.81V379.83M418.41,372.22V378.91M423.82,370.63V377.99M429.23,368.28V376.32M434.64,365.94V374.64M440.06,364.60V373.97M445.47,363.26V373.30M450.88,361.34V372.22M456.29,359.42V371.13M461.70,356.49V369.04M467.12,353.56V366.95M472.53,352.14V366.36M477.94,350.71V365.77M483.35,347.41V363.31M488.76,344.10V360.84M494.18,340.05V357.62M499.59,335.99V354.40M505.00,332.93V352.18M510.41,329.88V349.96M515.82,326.45V347.37M521.24,323.02V344.77M526.65,322.23V344.82M532.06,321.43V344.86M537.47,317.25V341.51M542.88,313.06V338.16M548.30,312.14V338.08M553.71,311.22V338.00M559.12,308.67V336.28M564.53,306.12V334.57M569.94,311.22V340.51M575.36,313.31V343.44M580.77,312.90V343.85M586.18,312.48V344.27M591.59,309.55V342.18M597.00,306.62V340.09M602.42,304.70V339.00M607.83,302.77V337.91M613.24,295.49V333.14M618.65,288.22V328.38M624.06,285.58V328.25M629.48,282.94V328.12M634.89,278.43V326.12" stroke="#2ca02c" stroke-width="1.35" stroke-opacity="0.7" fill="none"/>
<path d="M369.70,371.04V373.56M375.11,370.20V373.15M380.52,369.35V372.74M385.94,370.26V374.09M391.35,371.17V375.44M396.76,372.46V377.16M402.17,373.74V378.89M407.58,375.66V381.24M413.00,377.57V383.59M418.41,377.61V384.31M423.82,377.65V385.02M429.23,375.69V383.72M434.64,373.72V382.42M440.06,372.38V381.75M445.47,371.04V381.08M450.88,368.74V379.62M456.29,366.44V378.16M461.70,364.52V377.07M467.12,362.59V375.98M472.53,361.42V375.65M477.94,360.25V375.31M483.35,357.99V374.06M488.76,355.73V372.80M494.18,354.10V372.17M499.59,352.47V371.55M505.00,348.71V368.79M510.41,344.94V366.02M515.82,342.31V364.39M521.24,339.67V362.76M526.65,335.90V360.00M532.06,332.14V357.24M537.47,328.92V355.69M542.88,325.70V354.14M548.30,328.63V358.75M553.71,322.77V354.56M559.12,318.42V351.89M564.53,314.07V349.21M569.94,310.68V347.07M575.36,307.29V344.94M580.77,301.39V340.30M586.18,295.49V335.65M591.59,293.36V334.78M597.00,291.23V333.90M602.42,302.77V346.70M607.83,314.32V359.50M613.24,310.93V354.86M618.65,307.54V350.21M624.06,306.41V347.83M629.48,319.09V359.25" stroke="#ff7f0e" stroke-width="1.35" stroke-opacity="0.7" fill="none"/>
<polyline points="369.70,372.30 375.11,370.92 380.52,369.54 385.94,369.16 391.35,368.79 396.76,372.80 402.17,376.82 407.58,375.44 413.00,374.06 418.41,372.68 423.82,371.30 429.23,370.67 434.64,370.04 440.06,367.28 445.47,364.52 450.88,362.51 456.29,360.50 461.70,358.12 467.12,355.73 472.53,352.97 477.94,350.21 483.35,348.45 488.76,346.70 494.18,342.93 499.59,339.17 505.00,335.03 510.41,330.88 515.82,327.25 521.24,323.61 526.65,322.48 532.06,321.35 537.47,315.45 542.88,309.55 548.30,312.81 553.71,310.05 559.12,304.53 564.53,299.01 569.94,307.79 575.36,304.53 580.77,301.14 586.18,297.75 591.59,292.98 597.00,288.22 602.42,280.18 607.83,293.49 613.24,285.96 618.65,278.43 624.06,274.41" stroke="#1f77b4" stroke-width="1.1" fill="none" stroke-linejoin="round"/>
<circle cx="369.70" cy="372.30" r="2.35" fill="#1f77b4" stroke="#111" stroke-width="0.8"/><circle cx="380.52" cy="369.54" r="2.35" fill="#1f77b4" stroke="#111" stroke-width="0.8"/><circle cx="391.35" cy="368.79" r="2.35" fill="#1f77b4" stroke="#111" stroke-width="0.8"/><circle cx="402.17" cy="376.82" r="2.35" fill="#1f77b4" stroke="#111" stroke-width="0.8"/><circle cx="413.00" cy="374.06" r="2.35" fill="#1f77b4" stroke="#111" stroke-width="0.8"/><circle cx="423.82" cy="371.30" r="2.35" fill="#1f77b4" stroke="#111" stroke-width="0.8"/><circle cx="434.64" cy="370.04" r="2.35" fill="#1f77b4" stroke="#111" stroke-width="0.8"/><circle cx="445.47" cy="364.52" r="2.35" fill="#1f77b4" stroke="#111" stroke-width="0.8"/><circle cx="456.29" cy="360.50" r="2.35" fill="#1f77b4" stroke="#111" stroke-width="0.8"/><circle cx="467.12" cy="355.73" r="2.35" fill="#1f77b4" stroke="#111" stroke-width="0.8"/><circle cx="477.94" cy="350.21" r="2.35" fill="#1f77b4" stroke="#111" stroke-width="0.8"/><circle cx="488.76" cy="346.70" r="2.35" fill="#1f77b4" stroke="#111" stroke-width="0.8"/><circle cx="499.59" cy="339.17" r="2.35" fill="#1f77b4" stroke="#111" stroke-width="0.8"/><circle cx="510.41" cy="330.88" r="2.35" fill="#1f77b4" stroke="#111" stroke-width="0.8"/><circle cx="521.24" cy="323.61" r="2.35" fill="#1f77b4" stroke="#111" stroke-width="0.8"/><circle cx="532.06" cy="321.35" r="2.35" fill="#1f77b4" stroke="#111" stroke-width="0.8"/><circle cx="542.88" cy="309.55" r="2.35" fill="#1f77b4" stroke="#111" stroke-width="0.8"/><circle cx="553.71" cy="310.05" r="2.35" fill="#1f77b4" stroke="#111" stroke-width="0.8"/><circle cx="564.53" cy="299.01" r="2.35" fill="#1f77b4" stroke="#111" stroke-width="0.8"/><circle cx="575.36" cy="304.53" r="2.35" fill="#1f77b4" stroke="#111" stroke-width="0.8"/><circle cx="586.18" cy="297.75" r="2.35" fill="#1f77b4" stroke="#111" stroke-width="0.8"/><circle cx="597.00" cy="288.22" r="2.35" fill="#1f77b4" stroke="#111" stroke-width="0.8"/><circle cx="607.83" cy="293.49" r="2.35" fill="#1f77b4" stroke="#111" stroke-width="0.8"/><circle cx="618.65" cy="278.43" r="2.35" fill="#1f77b4" stroke="#111" stroke-width="0.8"/>
<polyline points="369.70,372.30 375.11,372.30 380.52,372.30 385.94,372.93 391.35,373.56 396.76,375.19 402.17,376.82 407.58,377.45 413.00,378.07 418.41,378.07 423.82,378.07 429.23,378.32 434.64,378.57 440.06,378.57 445.47,378.57 450.88,376.06 456.29,373.56 461.70,372.05 467.12,370.54 472.53,369.41 477.94,368.28 483.35,367.78 488.76,367.28 494.18,364.77 499.59,362.26 505.00,359.62 510.41,356.99 515.82,355.36 521.24,353.73 526.65,351.22 532.06,348.71 537.47,347.95 542.88,347.20 548.30,367.28 553.71,366.53 559.12,365.77 564.53,365.02 569.94,364.27 575.36,363.51 580.77,362.01 586.18,360.50 591.59,359.25 597.00,372.05 602.42,370.17 607.83,368.28 613.24,366.65 618.65,365.02 624.06,362.64 629.48,360.25" stroke="#9467bd" stroke-width="1.1" fill="none" stroke-linejoin="round"/>
<path d="M368.30,369.85L369.70,371.25L371.10,369.85L372.15,370.90L370.75,372.30L372.15,373.70L371.10,374.75L369.70,373.35L368.30,374.75L367.25,373.70L368.65,372.30L367.25,370.90Z" fill="#6a4a8e" stroke="#1a1020" stroke-width="1.0" stroke-linejoin="round"/><path d="M379.12,369.85L380.52,371.25L381.92,369.85L382.97,370.90L381.57,372.30L382.97,373.70L381.92,374.75L380.52,373.35L379.12,374.75L378.07,373.70L379.47,372.30L378.07,370.90Z" fill="#6a4a8e" stroke="#1a1020" stroke-width="1.0" stroke-linejoin="round"/><path d="M389.95,371.11L391.35,372.50L392.75,371.11L393.80,372.16L392.40,373.56L393.80,374.95L392.75,376.00L391.35,374.61L389.95,376.00L388.90,374.95L390.30,373.56L388.90,372.16Z" fill="#6a4a8e" stroke="#1a1020" stroke-width="1.0" stroke-linejoin="round"/><path d="M400.77,374.37L402.17,375.77L403.57,374.37L404.62,375.42L403.22,376.82L404.62,378.22L403.57,379.27L402.17,377.87L400.77,379.27L399.72,378.22L401.12,376.82L399.72,375.42Z" fill="#6a4a8e" stroke="#1a1020" stroke-width="1.0" stroke-linejoin="round"/><path d="M411.60,375.62L413.00,377.02L414.40,375.62L415.45,376.67L414.05,378.07L415.45,379.47L414.40,380.52L413.00,379.12L411.60,380.52L410.55,379.47L411.95,378.07L410.55,376.67Z" fill="#6a4a8e" stroke="#1a1020" stroke-width="1.0" stroke-linejoin="round"/><path d="M422.42,375.62L423.82,377.02L425.22,375.62L426.27,376.67L424.87,378.07L426.27,379.47L425.22,380.52L423.82,379.12L422.42,380.52L421.37,379.47L422.77,378.07L421.37,376.67Z" fill="#6a4a8e" stroke="#1a1020" stroke-width="1.0" stroke-linejoin="round"/><path d="M433.24,376.12L434.64,377.52L436.04,376.12L437.09,377.18L435.69,378.57L437.09,379.97L436.04,381.02L434.64,379.62L433.24,381.02L432.19,379.97L433.59,378.57L432.19,377.18Z" fill="#6a4a8e" stroke="#1a1020" stroke-width="1.0" stroke-linejoin="round"/><path d="M444.07,376.12L445.47,377.52L446.87,376.12L447.92,377.18L446.52,378.57L447.92,379.97L446.87,381.02L445.47,379.62L444.07,381.02L443.02,379.97L444.42,378.57L443.02,377.18Z" fill="#6a4a8e" stroke="#1a1020" stroke-width="1.0" stroke-linejoin="round"/><path d="M454.89,371.11L456.29,372.50L457.69,371.11L458.74,372.16L457.34,373.56L458.74,374.95L457.69,376.00L456.29,374.61L454.89,376.00L453.84,374.95L455.24,373.56L453.84,372.16Z" fill="#6a4a8e" stroke="#1a1020" stroke-width="1.0" stroke-linejoin="round"/><path d="M465.72,368.09L467.12,369.49L468.52,368.09L469.57,369.14L468.17,370.54L469.57,371.94L468.52,372.99L467.12,371.59L465.72,372.99L464.67,371.94L466.07,370.54L464.67,369.14Z" fill="#6a4a8e" stroke="#1a1020" stroke-width="1.0" stroke-linejoin="round"/><path d="M476.54,365.83L477.94,367.23L479.34,365.83L480.39,366.88L478.99,368.28L480.39,369.68L479.34,370.73L477.94,369.33L476.54,370.73L475.49,369.68L476.89,368.28L475.49,366.88Z" fill="#6a4a8e" stroke="#1a1020" stroke-width="1.0" stroke-linejoin="round"/><path d="M487.36,364.83L488.76,366.23L490.16,364.83L491.21,365.88L489.81,367.28L491.21,368.68L490.16,369.73L488.76,368.33L487.36,369.73L486.31,368.68L487.71,367.28L486.31,365.88Z" fill="#6a4a8e" stroke="#1a1020" stroke-width="1.0" stroke-linejoin="round"/><path d="M498.19,359.81L499.59,361.21L500.99,359.81L502.04,360.86L500.64,362.26L502.04,363.66L500.99,364.71L499.59,363.31L498.19,364.71L497.14,363.66L498.54,362.26L497.14,360.86Z" fill="#6a4a8e" stroke="#1a1020" stroke-width="1.0" stroke-linejoin="round"/><path d="M509.01,354.54L510.41,355.94L511.81,354.54L512.86,355.59L511.46,356.99L512.86,358.39L511.81,359.44L510.41,358.04L509.01,359.44L507.96,358.39L509.36,356.99L507.96,355.59Z" fill="#6a4a8e" stroke="#1a1020" stroke-width="1.0" stroke-linejoin="round"/><path d="M519.84,351.28L521.24,352.68L522.64,351.28L523.69,352.33L522.29,353.73L523.69,355.13L522.64,356.18L521.24,354.78L519.84,356.18L518.79,355.13L520.19,353.73L518.79,352.33Z" fill="#6a4a8e" stroke="#1a1020" stroke-width="1.0" stroke-linejoin="round"/><path d="M530.66,346.26L532.06,347.66L533.46,346.26L534.51,347.31L533.11,348.71L534.51,350.11L533.46,351.16L532.06,349.76L530.66,351.16L529.61,350.11L531.01,348.71L529.61,347.31Z" fill="#6a4a8e" stroke="#1a1020" stroke-width="1.0" stroke-linejoin="round"/><path d="M541.48,344.75L542.88,346.15L544.28,344.75L545.33,345.80L543.93,347.20L545.33,348.60L544.28,349.65L542.88,348.25L541.48,349.65L540.43,348.60L541.83,347.20L540.43,345.80Z" fill="#6a4a8e" stroke="#1a1020" stroke-width="1.0" stroke-linejoin="round"/><path d="M552.31,364.08L553.71,365.48L555.11,364.08L556.16,365.13L554.76,366.53L556.16,367.93L555.11,368.98L553.71,367.58L552.31,368.98L551.26,367.93L552.66,366.53L551.26,365.13Z" fill="#6a4a8e" stroke="#1a1020" stroke-width="1.0" stroke-linejoin="round"/><path d="M563.13,362.57L564.53,363.97L565.93,362.57L566.98,363.62L565.58,365.02L566.98,366.42L565.93,367.47L564.53,366.07L563.13,367.47L562.08,366.42L563.48,365.02L562.08,363.62Z" fill="#6a4a8e" stroke="#1a1020" stroke-width="1.0" stroke-linejoin="round"/><path d="M573.96,361.06L575.36,362.46L576.76,361.06L577.81,362.12L576.41,363.51L577.81,364.91L576.76,365.96L575.36,364.56L573.96,365.96L572.91,364.91L574.31,363.51L572.91,362.12Z" fill="#6a4a8e" stroke="#1a1020" stroke-width="1.0" stroke-linejoin="round"/><path d="M584.78,358.05L586.18,359.45L587.58,358.05L588.63,359.10L587.23,360.50L588.63,361.90L587.58,362.95L586.18,361.55L584.78,362.95L583.73,361.90L585.13,360.50L583.73,359.10Z" fill="#6a4a8e" stroke="#1a1020" stroke-width="1.0" stroke-linejoin="round"/><path d="M595.60,369.60L597.00,371.00L598.40,369.60L599.45,370.65L598.05,372.05L599.45,373.45L598.40,374.50L597.00,373.10L595.60,374.50L594.55,373.45L595.95,372.05L594.55,370.65Z" fill="#6a4a8e" stroke="#1a1020" stroke-width="1.0" stroke-linejoin="round"/><path d="M606.43,365.83L607.83,367.23L609.23,365.83L610.28,366.88L608.88,368.28L610.28,369.68L609.23,370.73L607.83,369.33L606.43,370.73L605.38,369.68L606.78,368.28L605.38,366.88Z" fill="#6a4a8e" stroke="#1a1020" stroke-width="1.0" stroke-linejoin="round"/><path d="M617.25,362.57L618.65,363.97L620.05,362.57L621.10,363.62L619.70,365.02L621.10,366.42L620.05,367.47L618.65,366.07L617.25,367.47L616.20,366.42L617.60,365.02L616.20,363.62Z" fill="#6a4a8e" stroke="#1a1020" stroke-width="1.0" stroke-linejoin="round"/><path d="M628.08,357.80L629.48,359.20L630.88,357.80L631.93,358.85L630.53,360.25L631.93,361.65L630.88,362.70L629.48,361.30L628.08,362.70L627.03,361.65L628.43,360.25L627.03,358.85Z" fill="#6a4a8e" stroke="#1a1020" stroke-width="1.0" stroke-linejoin="round"/>
<polyline points="369.70,372.30 375.11,373.56 380.52,374.81 385.94,375.44 391.35,376.06 396.76,377.19 402.17,378.32 407.58,377.57 413.00,376.82 418.41,375.56 423.82,374.31 429.23,372.30 434.64,370.29 440.06,369.29 445.47,368.28 450.88,366.78 456.29,365.27 461.70,362.76 467.12,360.25 472.53,359.25 477.94,358.24 483.35,355.36 488.76,352.47 494.18,348.83 499.59,345.19 505.00,342.56 510.41,339.92 515.82,336.91 521.24,333.90 526.65,333.52 532.06,333.14 537.47,329.38 542.88,325.61 548.30,325.11 553.71,324.61 559.12,322.48 564.53,320.34 569.94,325.87 575.36,328.38 580.77,328.38 586.18,328.38 591.59,325.87 597.00,323.36 602.42,321.85 607.83,320.34 613.24,314.32 618.65,308.30 624.06,306.91 629.48,305.53 634.89,302.27" stroke="#2ca02c" stroke-width="1.1" fill="none" stroke-linejoin="round"/>
<rect x="367.40" y="370.00" width="4.60" height="4.60" fill="#2ca02c" stroke="#111" stroke-width="0.8"/><rect x="378.22" y="372.51" width="4.60" height="4.60" fill="#2ca02c" stroke="#111" stroke-width="0.8"/><rect x="389.05" y="373.76" width="4.60" height="4.60" fill="#2ca02c" stroke="#111" stroke-width="0.8"/><rect x="399.87" y="376.02" width="4.60" height="4.60" fill="#2ca02c" stroke="#111" stroke-width="0.8"/><rect x="410.70" y="374.52" width="4.60" height="4.60" fill="#2ca02c" stroke="#111" stroke-width="0.8"/><rect x="421.52" y="372.01" width="4.60" height="4.60" fill="#2ca02c" stroke="#111" stroke-width="0.8"/><rect x="432.34" y="367.99" width="4.60" height="4.60" fill="#2ca02c" stroke="#111" stroke-width="0.8"/><rect x="443.17" y="365.98" width="4.60" height="4.60" fill="#2ca02c" stroke="#111" stroke-width="0.8"/><rect x="453.99" y="362.97" width="4.60" height="4.60" fill="#2ca02c" stroke="#111" stroke-width="0.8"/><rect x="464.82" y="357.95" width="4.60" height="4.60" fill="#2ca02c" stroke="#111" stroke-width="0.8"/><rect x="475.64" y="355.94" width="4.60" height="4.60" fill="#2ca02c" stroke="#111" stroke-width="0.8"/><rect x="486.46" y="350.17" width="4.60" height="4.60" fill="#2ca02c" stroke="#111" stroke-width="0.8"/><rect x="497.29" y="342.89" width="4.60" height="4.60" fill="#2ca02c" stroke="#111" stroke-width="0.8"/><rect x="508.11" y="337.62" width="4.60" height="4.60" fill="#2ca02c" stroke="#111" stroke-width="0.8"/><rect x="518.94" y="331.60" width="4.60" height="4.60" fill="#2ca02c" stroke="#111" stroke-width="0.8"/><rect x="529.76" y="330.84" width="4.60" height="4.60" fill="#2ca02c" stroke="#111" stroke-width="0.8"/><rect x="540.58" y="323.31" width="4.60" height="4.60" fill="#2ca02c" stroke="#111" stroke-width="0.8"/><rect x="551.41" y="322.31" width="4.60" height="4.60" fill="#2ca02c" stroke="#111" stroke-width="0.8"/><rect x="562.23" y="318.04" width="4.60" height="4.60" fill="#2ca02c" stroke="#111" stroke-width="0.8"/><rect x="573.06" y="326.07" width="4.60" height="4.60" fill="#2ca02c" stroke="#111" stroke-width="0.8"/><rect x="583.88" y="326.07" width="4.60" height="4.60" fill="#2ca02c" stroke="#111" stroke-width="0.8"/><rect x="594.70" y="321.06" width="4.60" height="4.60" fill="#2ca02c" stroke="#111" stroke-width="0.8"/><rect x="605.53" y="318.04" width="4.60" height="4.60" fill="#2ca02c" stroke="#111" stroke-width="0.8"/><rect x="616.35" y="306.00" width="4.60" height="4.60" fill="#2ca02c" stroke="#111" stroke-width="0.8"/><rect x="627.18" y="303.23" width="4.60" height="4.60" fill="#2ca02c" stroke="#111" stroke-width="0.8"/>
<polyline points="369.70,372.30 375.11,371.67 380.52,371.04 385.94,372.17 391.35,373.30 396.76,374.81 402.17,376.32 407.58,378.45 413.00,380.58 418.41,380.96 423.82,381.34 429.23,379.70 434.64,378.07 440.06,377.07 445.47,376.06 450.88,374.18 456.29,372.30 461.70,370.79 467.12,369.29 472.53,368.53 477.94,367.78 483.35,366.02 488.76,364.27 494.18,363.14 499.59,362.01 505.00,358.75 510.41,355.48 515.82,353.35 521.24,351.22 526.65,347.95 532.06,344.69 537.47,342.31 542.88,339.92 548.30,343.69 553.71,338.67 559.12,335.15 564.53,331.64 569.94,328.88 575.36,326.12 580.77,320.85 586.18,315.57 591.59,314.07 597.00,312.56 602.42,324.74 607.83,336.91 613.24,332.89 618.65,328.88 624.06,327.12 629.48,339.17" stroke="#ff7f0e" stroke-width="1.1" fill="none" stroke-linejoin="round"/>
<path d="M366.80,370.30L372.60,370.30L369.70,375.30Z" fill="#ff7f0e" stroke="#111" stroke-width="0.8" stroke-linejoin="miter"/><path d="M377.62,369.04L383.42,369.04L380.52,374.04Z" fill="#ff7f0e" stroke="#111" stroke-width="0.8" stroke-linejoin="miter"/><path d="M388.45,371.30L394.25,371.30L391.35,376.30Z" fill="#ff7f0e" stroke="#111" stroke-width="0.8" stroke-linejoin="miter"/><path d="M399.27,374.32L405.07,374.32L402.17,379.32Z" fill="#ff7f0e" stroke="#111" stroke-width="0.8" stroke-linejoin="miter"/><path d="M410.10,378.58L415.90,378.58L413.00,383.58Z" fill="#ff7f0e" stroke="#111" stroke-width="0.8" stroke-linejoin="miter"/><path d="M420.92,379.34L426.72,379.34L423.82,384.34Z" fill="#ff7f0e" stroke="#111" stroke-width="0.8" stroke-linejoin="miter"/><path d="M431.74,376.07L437.54,376.07L434.64,381.07Z" fill="#ff7f0e" stroke="#111" stroke-width="0.8" stroke-linejoin="miter"/><path d="M442.57,374.06L448.37,374.06L445.47,379.06Z" fill="#ff7f0e" stroke="#111" stroke-width="0.8" stroke-linejoin="miter"/><path d="M453.39,370.30L459.19,370.30L456.29,375.30Z" fill="#ff7f0e" stroke="#111" stroke-width="0.8" stroke-linejoin="miter"/><path d="M464.22,367.29L470.02,367.29L467.12,372.29Z" fill="#ff7f0e" stroke="#111" stroke-width="0.8" stroke-linejoin="miter"/><path d="M475.04,365.78L480.84,365.78L477.94,370.78Z" fill="#ff7f0e" stroke="#111" stroke-width="0.8" stroke-linejoin="miter"/><path d="M485.86,362.27L491.66,362.27L488.76,367.27Z" fill="#ff7f0e" stroke="#111" stroke-width="0.8" stroke-linejoin="miter"/><path d="M496.69,360.01L502.49,360.01L499.59,365.01Z" fill="#ff7f0e" stroke="#111" stroke-width="0.8" stroke-linejoin="miter"/><path d="M507.51,353.48L513.31,353.48L510.41,358.48Z" fill="#ff7f0e" stroke="#111" stroke-width="0.8" stroke-linejoin="miter"/><path d="M518.34,349.22L524.14,349.22L521.24,354.22Z" fill="#ff7f0e" stroke="#111" stroke-width="0.8" stroke-linejoin="miter"/><path d="M529.16,342.69L534.96,342.69L532.06,347.69Z" fill="#ff7f0e" stroke="#111" stroke-width="0.8" stroke-linejoin="miter"/><path d="M539.98,337.92L545.78,337.92L542.88,342.92Z" fill="#ff7f0e" stroke="#111" stroke-width="0.8" stroke-linejoin="miter"/><path d="M550.81,336.67L556.61,336.67L553.71,341.67Z" fill="#ff7f0e" stroke="#111" stroke-width="0.8" stroke-linejoin="miter"/><path d="M561.63,329.64L567.43,329.64L564.53,334.64Z" fill="#ff7f0e" stroke="#111" stroke-width="0.8" stroke-linejoin="miter"/><path d="M572.46,324.12L578.26,324.12L575.36,329.12Z" fill="#ff7f0e" stroke="#111" stroke-width="0.8" stroke-linejoin="miter"/><path d="M583.28,313.57L589.08,313.57L586.18,318.57Z" fill="#ff7f0e" stroke="#111" stroke-width="0.8" stroke-linejoin="miter"/><path d="M594.10,310.56L599.90,310.56L597.00,315.56Z" fill="#ff7f0e" stroke="#111" stroke-width="0.8" stroke-linejoin="miter"/><path d="M604.93,334.91L610.73,334.91L607.83,339.91Z" fill="#ff7f0e" stroke="#111" stroke-width="0.8" stroke-linejoin="miter"/><path d="M615.75,326.88L621.55,326.88L618.65,331.88Z" fill="#ff7f0e" stroke="#111" stroke-width="0.8" stroke-linejoin="miter"/><path d="M626.58,337.17L632.38,337.17L629.48,342.17Z" fill="#ff7f0e" stroke="#111" stroke-width="0.8" stroke-linejoin="miter"/>
<path d="M369.70,248.30H391.35V269.17H526.65V290.79H542.88V312.41H564.53V333.29H602.42V354.76H624.06V397.40H640.30V397.40" stroke="#1f77b4" stroke-width="1.3" stroke-dasharray="4.3 4.1" fill="none" stroke-opacity="0.85"/>
<path d="M369.70,248.30H429.23V266.94H521.24V285.57H542.88V322.85H591.59V341.49H634.89V341.49" stroke="#9467bd" stroke-width="1.2" stroke-dasharray="3.6 1.8" fill="none" stroke-opacity="0.85"/>
<path d="M369.70,248.30H521.24V259.04H542.88V269.62H559.12V281.10H564.53V290.79H569.94V312.41H586.18V322.85H613.24V333.29H634.89V333.29" stroke="#2ca02c" stroke-width="1.3" stroke-dasharray="3.0 3.3" fill="none" stroke-opacity="0.85"/>
<path d="M369.70,248.30H542.88V259.63H591.59V271.11H597.00V295.12H602.42V317.18H624.06V328.81H634.89V328.81" stroke="#ff7f0e" stroke-width="1.2" stroke-dasharray="1.1 1.1" fill="none" stroke-opacity="0.85"/>
</g>
<path d="M369.70,246.80V397.40H640.30V246.80Z" fill="none" stroke="#262626" stroke-width="0.9"/>
<path d="M367.10,397.40H369.70M367.10,372.30H369.70M367.10,347.20H369.70M367.10,322.10H369.70M367.10,297.00H369.70M367.10,271.90H369.70M367.10,246.80H369.70M369.70,397.40V400.00M396.76,397.40V400.00M423.82,397.40V400.00M450.88,397.40V400.00M477.94,397.40V400.00M505.00,397.40V400.00M532.06,397.40V400.00M559.12,397.40V400.00M586.18,397.40V400.00M613.24,397.40V400.00M640.30,397.40V400.00M640.30,397.40H642.90M640.30,367.58H642.90M640.30,337.76H642.90M640.30,307.94H642.90M640.30,278.12H642.90M640.30,248.30H642.90" stroke="#262626" stroke-width="0.8"/>
<text x="364.60" y="400.25" font-size="8.3" text-anchor="end" textLength="4.93" lengthAdjust="spacingAndGlyphs" fill="#111" stroke="#111" stroke-width="0.12">0</text>
<text x="364.60" y="375.15" font-size="8.3" text-anchor="end" textLength="4.93" lengthAdjust="spacingAndGlyphs" fill="#111" stroke="#111" stroke-width="0.12">1</text>
<text x="364.60" y="350.05" font-size="8.3" text-anchor="end" textLength="4.93" lengthAdjust="spacingAndGlyphs" fill="#111" stroke="#111" stroke-width="0.12">2</text>
<text x="364.60" y="324.95" font-size="8.3" text-anchor="end" textLength="4.93" lengthAdjust="spacingAndGlyphs" fill="#111" stroke="#111" stroke-width="0.12">3</text>
<text x="364.60" y="299.85" font-size="8.3" text-anchor="end" textLength="4.93" lengthAdjust="spacingAndGlyphs" fill="#111" stroke="#111" stroke-width="0.12">4</text>
<text x="364.60" y="274.75" font-size="8.3" text-anchor="end" textLength="4.93" lengthAdjust="spacingAndGlyphs" fill="#111" stroke="#111" stroke-width="0.12">5</text>
<text x="364.60" y="249.65" font-size="8.3" text-anchor="end" textLength="4.93" lengthAdjust="spacingAndGlyphs" fill="#111" stroke="#111" stroke-width="0.12">6</text>
<text x="369.70" y="408.30" font-size="8.3" text-anchor="middle" textLength="4.93" lengthAdjust="spacingAndGlyphs" fill="#111" stroke="#111" stroke-width="0.12">0</text>
<text x="396.76" y="408.30" font-size="8.3" text-anchor="middle" textLength="4.93" lengthAdjust="spacingAndGlyphs" fill="#111" stroke="#111" stroke-width="0.12">5</text>
<text x="423.82" y="408.30" font-size="8.3" text-anchor="middle" textLength="9.86" lengthAdjust="spacingAndGlyphs" fill="#111" stroke="#111" stroke-width="0.12">10</text>
<text x="450.88" y="408.30" font-size="8.3" text-anchor="middle" textLength="9.86" lengthAdjust="spacingAndGlyphs" fill="#111" stroke="#111" stroke-width="0.12">15</text>
<text x="477.94" y="408.30" font-size="8.3" text-anchor="middle" textLength="9.86" lengthAdjust="spacingAndGlyphs" fill="#111" stroke="#111" stroke-width="0.12">20</text>
<text x="505.00" y="408.30" font-size="8.3" text-anchor="middle" textLength="9.86" lengthAdjust="spacingAndGlyphs" fill="#111" stroke="#111" stroke-width="0.12">25</text>
<text x="532.06" y="408.30" font-size="8.3" text-anchor="middle" textLength="9.86" lengthAdjust="spacingAndGlyphs" fill="#111" stroke="#111" stroke-width="0.12">30</text>
<text x="559.12" y="408.30" font-size="8.3" text-anchor="middle" textLength="9.86" lengthAdjust="spacingAndGlyphs" fill="#111" stroke="#111" stroke-width="0.12">35</text>
<text x="586.18" y="408.30" font-size="8.3" text-anchor="middle" textLength="9.86" lengthAdjust="spacingAndGlyphs" fill="#111" stroke="#111" stroke-width="0.12">40</text>
<text x="613.24" y="408.30" font-size="8.3" text-anchor="middle" textLength="9.86" lengthAdjust="spacingAndGlyphs" fill="#111" stroke="#111" stroke-width="0.12">45</text>
<text x="640.30" y="408.30" font-size="8.3" text-anchor="middle" textLength="9.86" lengthAdjust="spacingAndGlyphs" fill="#111" stroke="#111" stroke-width="0.12">50</text>
<text x="645.60" y="400.25" font-size="8.3" text-anchor="start" textLength="12.33" lengthAdjust="spacingAndGlyphs" fill="#111" stroke="#111" stroke-width="0.12">0.0</text>
<text x="645.60" y="370.43" font-size="8.3" text-anchor="start" textLength="12.33" lengthAdjust="spacingAndGlyphs" fill="#111" stroke="#111" stroke-width="0.12">0.2</text>
<text x="645.60" y="340.61" font-size="8.3" text-anchor="start" textLength="12.33" lengthAdjust="spacingAndGlyphs" fill="#111" stroke="#111" stroke-width="0.12">0.4</text>
<text x="645.60" y="310.79" font-size="8.3" text-anchor="start" textLength="12.33" lengthAdjust="spacingAndGlyphs" fill="#111" stroke="#111" stroke-width="0.12">0.6</text>
<text x="645.60" y="280.97" font-size="8.3" text-anchor="start" textLength="12.33" lengthAdjust="spacingAndGlyphs" fill="#111" stroke="#111" stroke-width="0.12">0.8</text>
<text x="645.60" y="251.15" font-size="8.3" text-anchor="start" textLength="12.33" lengthAdjust="spacingAndGlyphs" fill="#111" stroke="#111" stroke-width="0.12">1.0</text>
<text x="505.00" y="243.10" font-size="10.0" text-anchor="middle" textLength="40.04" lengthAdjust="spacingAndGlyphs" fill="#111" stroke="#111" stroke-width="0.12">c) 10 Gy</text>
<text x="505.00" y="420.00" font-size="10.0" text-anchor="middle" textLength="56.10" lengthAdjust="spacingAndGlyphs" fill="#111" stroke="#111" stroke-width="0.12">Time [days]</text>
<text x="355.10" y="322.10" font-size="10.0" text-anchor="middle" textLength="109.34" lengthAdjust="spacingAndGlyphs" fill="#111" stroke="#111" stroke-width="0.12" transform="rotate(-90 355.10 322.10)">Relative tumor volume</text>
<text x="668.70" y="322.60" font-size="10.0" text-anchor="middle" textLength="142.67" lengthAdjust="spacingAndGlyphs" fill="#111" stroke="#111" stroke-width="0.12" transform="rotate(-90 668.70 322.60)">Fraction of animals remaining</text>
<text x="679.40" y="320.60" font-size="10.0" text-anchor="middle" textLength="66.25" lengthAdjust="spacingAndGlyphs" fill="#111" stroke="#111" stroke-width="0.12" transform="rotate(-90 679.40 320.60)">in experiment</text>
<clipPath id="clip3"><rect x="25.35" y="498.70" width="270.60" height="150.60"/></clipPath>
<g clip-path="url(#clip3)">
<path d="M25.35,622.94V625.45M30.76,622.82V625.58M36.17,622.69V625.71M41.59,622.82V626.08M47.00,622.94V626.46M52.41,624.45V628.22M57.82,625.96V629.97M63.23,628.47V632.73M68.65,630.98V635.50M74.06,629.60V634.37M79.47,628.22V633.24M84.88,626.46V631.98M90.29,624.70V630.73M95.71,623.20V629.72M101.12,621.69V628.72M106.53,620.43V627.96M111.94,619.18V627.21M117.35,616.67V625.20M122.77,614.16V623.20M128.18,613.91V623.45M133.59,613.66V623.70M139.00,611.52V622.57M144.41,609.39V621.44M149.83,607.26V620.31M155.24,605.12V619.18M160.65,603.74V618.80M166.06,602.36V618.43M171.47,601.99V619.05M176.89,601.61V619.68M182.30,597.72V616.80M187.71,593.83V613.91M193.12,589.65V610.56M198.53,585.46V607.22M203.95,585.42V608.01M209.36,585.38V608.81M214.77,583.20V607.47M220.18,581.03V606.13M225.59,577.89V605.50M231.01,574.75V604.87M236.42,570.49V603.12M241.83,566.22V601.36M247.24,562.89V598.66M252.65,559.57V595.96M258.07,563.02V600.04M263.48,563.46V601.11M268.89,560.63V598.91M274.30,557.81V596.72M279.71,559.13V598.66M285.13,560.45V600.61M290.54,566.97V607.13" stroke="#1f77b4" stroke-width="1.35" stroke-opacity="0.7" fill="none"/>
<path d="M25.35,622.94V625.45M30.76,622.87V625.53M36.17,622.79V625.61M41.59,623.22V626.18M47.00,623.65V626.76M52.41,626.08V629.35M57.82,628.52V631.93M63.23,630.32V633.89M68.65,632.13V635.85M74.06,632.81V636.67M79.47,633.49V637.50M84.88,633.56V637.68M90.29,633.64V637.85M95.71,634.09V638.41M101.12,634.54V638.96M106.53,633.99V638.51M111.94,633.44V638.06M117.35,633.39V638.11M122.77,633.34V638.16M128.18,635.29V640.21M133.59,637.25V642.27M139.00,636.88V642.40M144.41,636.50V642.52M149.83,634.99V641.52M155.24,633.49V640.51M160.65,632.61V640.14M166.06,631.73V639.76M171.47,632.61V641.14M176.89,633.49V642.52M182.30,632.36V641.90M187.71,631.23V641.27M193.12,630.47V641.52M198.53,629.72V641.77M203.95,627.96V641.02M209.36,626.21V640.26M214.77,625.71V640.77M220.18,625.20V641.27M225.59,623.45V640.51M231.01,621.69V639.76M236.42,620.81V639.89M241.83,619.93V640.01M247.24,619.18V640.51M252.65,618.43V641.02M258.07,617.17V641.02M263.48,615.92V641.02M268.89,614.03V640.39M274.30,612.15V639.76M279.71,609.89V638.76M285.13,607.63V637.75M290.54,608.14V638.26" stroke="#9467bd" stroke-width="1.35" stroke-opacity="0.7" fill="none"/>
<path d="M25.35,622.94V625.45M30.76,621.56V624.33M36.17,620.18V623.20M41.59,620.56V623.82M47.00,620.94V624.45M52.41,622.07V625.83M57.82,623.20V627.21M63.23,623.57V627.84M68.65,623.95V628.47M74.06,621.56V626.33M79.47,619.18V624.20M84.88,616.67V622.19M90.29,614.16V620.18M95.71,613.16V619.68M101.12,612.15V619.18M106.53,610.14V617.67M111.94,608.14V616.17M117.35,606.88V615.41M122.77,605.63V614.66M128.18,605.50V615.04M133.59,605.38V615.41M139.00,606.13V617.17M144.41,599.35V611.40M149.83,598.35V611.40M155.24,597.34V611.40M160.65,594.58V609.64M166.06,591.82V607.88M171.47,589.06V606.13M176.89,586.30V604.37M182.30,581.66V600.73M187.71,577.01V597.09M193.12,573.25V594.58M198.53,569.48V592.07M203.95,564.71V588.56M209.36,559.94V585.04M214.77,561.45V586.55M220.18,559.94V585.04M225.59,543.88V589.06M231.01,574.00V599.10M236.42,569.73V597.34M241.83,565.47V595.59M247.24,562.08V594.71M252.65,558.69V593.83M258.07,548.65V586.30M263.48,538.61V578.77M268.89,531.52V572.31M274.30,524.43V565.84M279.71,524.11V566.16M285.13,523.80V566.47M290.54,517.02V565.72" stroke="#2ca02c" stroke-width="1.35" stroke-opacity="0.7" fill="none"/>
<path d="M25.35,622.94V625.45M30.76,621.56V624.33M36.17,620.18V623.20M41.59,620.56V623.82M47.00,620.94V624.45M52.41,622.57V626.33M57.82,624.20V628.22M63.23,626.71V630.98M68.65,629.22V633.74M74.06,629.47V634.24M79.47,629.72V634.74M84.88,629.35V634.87M90.29,628.97V634.99M95.71,627.59V634.11M101.12,626.21V633.24M106.53,625.83V633.36M111.94,625.45V633.49M117.35,624.58V633.11M122.77,623.70V632.73M128.18,623.20V632.73M133.59,622.69V632.73M139.00,621.56V632.61M144.41,620.43V632.48M149.83,619.81V632.86M155.24,619.18V633.24M160.65,617.55V632.61M166.06,615.92V631.98M171.47,615.92V632.98M176.89,615.92V633.99M182.30,613.28V632.36M187.71,610.65V630.73M193.12,608.89V629.97M198.53,607.13V629.22M203.95,605.50V628.59M209.36,603.87V627.96M214.77,599.35V624.45M220.18,594.83V620.94M225.59,592.45V619.56M231.01,590.06V618.18M236.42,588.56V617.67M241.83,587.05V617.17M247.24,593.45V624.83M252.65,593.58V626.21M258.07,592.95V626.84M263.48,592.32V627.46M268.89,588.06V624.45M274.30,583.79V621.44M279.71,582.53V621.44M285.13,581.28V621.44M290.54,582.78V622.94" stroke="#ff7f0e" stroke-width="1.35" stroke-opacity="0.7" fill="none"/>
<polyline points="25.35,624.20 30.76,624.20 36.17,624.20 41.59,624.45 47.00,624.70 52.41,626.33 57.82,627.96 63.23,630.60 68.65,633.24 74.06,631.98 79.47,630.73 84.88,629.22 90.29,627.71 95.71,626.46 101.12,625.20 106.53,624.20 111.94,623.20 117.35,620.94 122.77,618.68 128.18,618.68 133.59,618.68 139.00,617.05 144.41,615.41 149.83,613.78 155.24,612.15 160.65,611.27 166.06,610.39 171.47,610.52 176.89,610.65 182.30,607.26 187.71,603.87 193.12,600.10 198.53,596.34 203.95,596.72 209.36,597.09 214.77,595.33 220.18,593.58 225.59,591.70 231.01,589.81 236.42,586.80 241.83,583.79 247.24,580.78 252.65,577.76 258.07,581.53 263.48,582.28 268.89,579.77 274.30,577.26 279.71,578.89 285.13,580.53 290.54,587.05" stroke="#1f77b4" stroke-width="1.1" fill="none" stroke-linejoin="round"/>
<circle cx="25.35" cy="624.20" r="2.35" fill="#1f77b4" stroke="#111" stroke-width="0.8"/><circle cx="36.17" cy="624.20" r="2.35" fill="#1f77b4" stroke="#111" stroke-width="0.8"/><circle cx="47.00" cy="624.70" r="2.35" fill="#1f77b4" stroke="#111" stroke-width="0.8"/><circle cx="57.82" cy="627.96" r="2.35" fill="#1f77b4" stroke="#111" stroke-width="0.8"/><circle cx="68.65" cy="633.24" r="2.35" fill="#1f77b4" stroke="#111" stroke-width="0.8"/><circle cx="79.47" cy="630.73" r="2.35" fill="#1f77b4" stroke="#111" stroke-width="0.8"/><circle cx="90.29" cy="627.71" r="2.35" fill="#1f77b4" stroke="#111" stroke-width="0.8"/><circle cx="101.12" cy="625.20" r="2.35" fill="#1f77b4" stroke="#111" stroke-width="0.8"/><circle cx="111.94" cy="623.20" r="2.35" fill="#1f77b4" stroke="#111" stroke-width="0.8"/><circle cx="122.77" cy="618.68" r="2.35" fill="#1f77b4" stroke="#111" stroke-width="0.8"/><circle cx="133.59" cy="618.68" r="2.35" fill="#1f77b4" stroke="#111" stroke-width="0.8"/><circle cx="144.41" cy="615.41" r="2.35" fill="#1f77b4" stroke="#111" stroke-width="0.8"/><circle cx="155.24" cy="612.15" r="2.35" fill="#1f77b4" stroke="#111" stroke-width="0.8"/><circle cx="166.06" cy="610.39" r="2.35" fill="#1f77b4" stroke="#111" stroke-width="0.8"/><circle cx="176.89" cy="610.65" r="2.35" fill="#1f77b4" stroke="#111" stroke-width="0.8"/><circle cx="187.71" cy="603.87" r="2.35" fill="#1f77b4" stroke="#111" stroke-width="0.8"/><circle cx="198.53" cy="596.34" r="2.35" fill="#1f77b4" stroke="#111" stroke-width="0.8"/><circle cx="209.36" cy="597.09" r="2.35" fill="#1f77b4" stroke="#111" stroke-width="0.8"/><circle cx="220.18" cy="593.58" r="2.35" fill="#1f77b4" stroke="#111" stroke-width="0.8"/><circle cx="231.01" cy="589.81" r="2.35" fill="#1f77b4" stroke="#111" stroke-width="0.8"/><circle cx="241.83" cy="583.79" r="2.35" fill="#1f77b4" stroke="#111" stroke-width="0.8"/><circle cx="252.65" cy="577.76" r="2.35" fill="#1f77b4" stroke="#111" stroke-width="0.8"/><circle cx="263.48" cy="582.28" r="2.35" fill="#1f77b4" stroke="#111" stroke-width="0.8"/><circle cx="274.30" cy="577.26" r="2.35" fill="#1f77b4" stroke="#111" stroke-width="0.8"/><circle cx="285.13" cy="580.53" r="2.35" fill="#1f77b4" stroke="#111" stroke-width="0.8"/>
<polyline points="25.35,624.20 30.76,624.20 36.17,624.20 41.59,624.70 47.00,625.20 52.41,627.71 57.82,630.22 63.23,632.11 68.65,633.99 74.06,634.74 79.47,635.50 84.88,635.62 90.29,635.75 95.71,636.25 101.12,636.75 106.53,636.25 111.94,635.75 117.35,635.75 122.77,635.75 128.18,637.75 133.59,639.76 139.00,639.64 144.41,639.51 149.83,638.26 155.24,637.00 160.65,636.37 166.06,635.75 171.47,636.88 176.89,638.00 182.30,637.13 187.71,636.25 193.12,636.00 198.53,635.75 203.95,634.49 209.36,633.24 214.77,633.24 220.18,633.24 225.59,631.98 231.01,630.73 236.42,630.35 241.83,629.97 247.24,629.85 252.65,629.72 258.07,629.09 263.48,628.47 268.89,627.21 274.30,625.96 279.71,624.33 285.13,622.69 290.54,623.20" stroke="#9467bd" stroke-width="1.1" fill="none" stroke-linejoin="round"/>
<path d="M23.95,621.75L25.35,623.15L26.75,621.75L27.80,622.80L26.40,624.20L27.80,625.60L26.75,626.65L25.35,625.25L23.95,626.65L22.90,625.60L24.30,624.20L22.90,622.80Z" fill="#6a4a8e" stroke="#1a1020" stroke-width="1.0" stroke-linejoin="round"/><path d="M34.77,621.75L36.17,623.15L37.57,621.75L38.62,622.80L37.22,624.20L38.62,625.60L37.57,626.65L36.17,625.25L34.77,626.65L33.72,625.60L35.12,624.20L33.72,622.80Z" fill="#6a4a8e" stroke="#1a1020" stroke-width="1.0" stroke-linejoin="round"/><path d="M45.60,622.75L47.00,624.15L48.40,622.75L49.45,623.80L48.05,625.20L49.45,626.60L48.40,627.65L47.00,626.25L45.60,627.65L44.55,626.60L45.95,625.20L44.55,623.80Z" fill="#6a4a8e" stroke="#1a1020" stroke-width="1.0" stroke-linejoin="round"/><path d="M56.42,627.77L57.82,629.17L59.22,627.77L60.27,628.82L58.87,630.22L60.27,631.62L59.22,632.67L57.82,631.27L56.42,632.67L55.37,631.62L56.77,630.22L55.37,628.82Z" fill="#6a4a8e" stroke="#1a1020" stroke-width="1.0" stroke-linejoin="round"/><path d="M67.25,631.54L68.65,632.94L70.05,631.54L71.10,632.59L69.70,633.99L71.10,635.39L70.05,636.44L68.65,635.04L67.25,636.44L66.20,635.39L67.60,633.99L66.20,632.59Z" fill="#6a4a8e" stroke="#1a1020" stroke-width="1.0" stroke-linejoin="round"/><path d="M78.07,633.04L79.47,634.45L80.87,633.04L81.92,634.10L80.52,635.50L81.92,636.89L80.87,637.95L79.47,636.54L78.07,637.95L77.02,636.89L78.42,635.50L77.02,634.10Z" fill="#6a4a8e" stroke="#1a1020" stroke-width="1.0" stroke-linejoin="round"/><path d="M88.89,633.30L90.29,634.70L91.69,633.30L92.74,634.35L91.34,635.75L92.74,637.15L91.69,638.20L90.29,636.80L88.89,638.20L87.84,637.15L89.24,635.75L87.84,634.35Z" fill="#6a4a8e" stroke="#1a1020" stroke-width="1.0" stroke-linejoin="round"/><path d="M99.72,634.30L101.12,635.70L102.52,634.30L103.57,635.35L102.17,636.75L103.57,638.15L102.52,639.20L101.12,637.80L99.72,639.20L98.67,638.15L100.07,636.75L98.67,635.35Z" fill="#6a4a8e" stroke="#1a1020" stroke-width="1.0" stroke-linejoin="round"/><path d="M110.54,633.30L111.94,634.70L113.34,633.30L114.39,634.35L112.99,635.75L114.39,637.15L113.34,638.20L111.94,636.80L110.54,638.20L109.49,637.15L110.89,635.75L109.49,634.35Z" fill="#6a4a8e" stroke="#1a1020" stroke-width="1.0" stroke-linejoin="round"/><path d="M121.37,633.30L122.77,634.70L124.17,633.30L125.22,634.35L123.82,635.75L125.22,637.15L124.17,638.20L122.77,636.80L121.37,638.20L120.32,637.15L121.72,635.75L120.32,634.35Z" fill="#6a4a8e" stroke="#1a1020" stroke-width="1.0" stroke-linejoin="round"/><path d="M132.19,637.31L133.59,638.71L134.99,637.31L136.04,638.36L134.64,639.76L136.04,641.16L134.99,642.21L133.59,640.81L132.19,642.21L131.14,641.16L132.54,639.76L131.14,638.36Z" fill="#6a4a8e" stroke="#1a1020" stroke-width="1.0" stroke-linejoin="round"/><path d="M143.01,637.06L144.41,638.46L145.81,637.06L146.86,638.11L145.46,639.51L146.86,640.91L145.81,641.96L144.41,640.56L143.01,641.96L141.96,640.91L143.36,639.51L141.96,638.11Z" fill="#6a4a8e" stroke="#1a1020" stroke-width="1.0" stroke-linejoin="round"/><path d="M153.84,634.55L155.24,635.95L156.64,634.55L157.69,635.60L156.29,637.00L157.69,638.40L156.64,639.45L155.24,638.05L153.84,639.45L152.79,638.40L154.19,637.00L152.79,635.60Z" fill="#6a4a8e" stroke="#1a1020" stroke-width="1.0" stroke-linejoin="round"/><path d="M164.66,633.30L166.06,634.70L167.46,633.30L168.51,634.35L167.11,635.75L168.51,637.15L167.46,638.20L166.06,636.80L164.66,638.20L163.61,637.15L165.01,635.75L163.61,634.35Z" fill="#6a4a8e" stroke="#1a1020" stroke-width="1.0" stroke-linejoin="round"/><path d="M175.49,635.55L176.89,636.96L178.29,635.55L179.34,636.61L177.94,638.00L179.34,639.40L178.29,640.46L176.89,639.05L175.49,640.46L174.44,639.40L175.84,638.00L174.44,636.61Z" fill="#6a4a8e" stroke="#1a1020" stroke-width="1.0" stroke-linejoin="round"/><path d="M186.31,633.80L187.71,635.20L189.11,633.80L190.16,634.85L188.76,636.25L190.16,637.65L189.11,638.70L187.71,637.30L186.31,638.70L185.26,637.65L186.66,636.25L185.26,634.85Z" fill="#6a4a8e" stroke="#1a1020" stroke-width="1.0" stroke-linejoin="round"/><path d="M197.13,633.30L198.53,634.70L199.93,633.30L200.98,634.35L199.58,635.75L200.98,637.15L199.93,638.20L198.53,636.80L197.13,638.20L196.08,637.15L197.48,635.75L196.08,634.35Z" fill="#6a4a8e" stroke="#1a1020" stroke-width="1.0" stroke-linejoin="round"/><path d="M207.96,630.79L209.36,632.19L210.76,630.79L211.81,631.84L210.41,633.24L211.81,634.64L210.76,635.69L209.36,634.29L207.96,635.69L206.91,634.64L208.31,633.24L206.91,631.84Z" fill="#6a4a8e" stroke="#1a1020" stroke-width="1.0" stroke-linejoin="round"/><path d="M218.78,630.79L220.18,632.19L221.58,630.79L222.63,631.84L221.23,633.24L222.63,634.64L221.58,635.69L220.18,634.29L218.78,635.69L217.73,634.64L219.13,633.24L217.73,631.84Z" fill="#6a4a8e" stroke="#1a1020" stroke-width="1.0" stroke-linejoin="round"/><path d="M229.61,628.28L231.01,629.68L232.41,628.28L233.46,629.33L232.06,630.73L233.46,632.13L232.41,633.18L231.01,631.78L229.61,633.18L228.56,632.13L229.96,630.73L228.56,629.33Z" fill="#6a4a8e" stroke="#1a1020" stroke-width="1.0" stroke-linejoin="round"/><path d="M240.43,627.52L241.83,628.92L243.23,627.52L244.28,628.57L242.88,629.97L244.28,631.37L243.23,632.42L241.83,631.02L240.43,632.42L239.38,631.37L240.78,629.97L239.38,628.57Z" fill="#6a4a8e" stroke="#1a1020" stroke-width="1.0" stroke-linejoin="round"/><path d="M251.25,627.27L252.65,628.67L254.05,627.27L255.10,628.32L253.70,629.72L255.10,631.12L254.05,632.17L252.65,630.77L251.25,632.17L250.20,631.12L251.60,629.72L250.20,628.32Z" fill="#6a4a8e" stroke="#1a1020" stroke-width="1.0" stroke-linejoin="round"/><path d="M262.08,626.02L263.48,627.42L264.88,626.02L265.93,627.07L264.53,628.47L265.93,629.87L264.88,630.92L263.48,629.52L262.08,630.92L261.03,629.87L262.43,628.47L261.03,627.07Z" fill="#6a4a8e" stroke="#1a1020" stroke-width="1.0" stroke-linejoin="round"/><path d="M272.90,623.51L274.30,624.91L275.70,623.51L276.75,624.56L275.35,625.96L276.75,627.36L275.70,628.41L274.30,627.01L272.90,628.41L271.85,627.36L273.25,625.96L271.85,624.56Z" fill="#6a4a8e" stroke="#1a1020" stroke-width="1.0" stroke-linejoin="round"/><path d="M283.73,620.24L285.13,621.64L286.53,620.24L287.58,621.29L286.18,622.69L287.58,624.09L286.53,625.14L285.13,623.74L283.73,625.14L282.68,624.09L284.08,622.69L282.68,621.29Z" fill="#6a4a8e" stroke="#1a1020" stroke-width="1.0" stroke-linejoin="round"/>
<polyline points="25.35,624.20 30.76,622.94 36.17,621.69 41.59,622.19 47.00,622.69 52.41,623.95 57.82,625.20 63.23,625.71 68.65,626.21 74.06,623.95 79.47,621.69 84.88,619.43 90.29,617.17 95.71,616.42 101.12,615.67 106.53,613.91 111.94,612.15 117.35,611.15 122.77,610.14 128.18,610.27 133.59,610.39 139.00,611.65 144.41,605.38 149.83,604.87 155.24,604.37 160.65,602.11 166.06,599.85 171.47,597.59 176.89,595.33 182.30,591.19 187.71,587.05 193.12,583.91 198.53,580.78 203.95,576.64 209.36,572.49 214.77,574.00 220.18,572.49 225.59,566.47 231.01,586.55 236.42,583.54 241.83,580.53 247.24,578.39 252.65,576.26 258.07,567.47 263.48,558.69 268.89,551.91 274.30,545.13 279.71,545.13 285.13,545.13 290.54,541.37" stroke="#2ca02c" stroke-width="1.1" fill="none" stroke-linejoin="round"/>
<rect x="23.05" y="621.90" width="4.60" height="4.60" fill="#2ca02c" stroke="#111" stroke-width="0.8"/><rect x="33.87" y="619.39" width="4.60" height="4.60" fill="#2ca02c" stroke="#111" stroke-width="0.8"/><rect x="44.70" y="620.39" width="4.60" height="4.60" fill="#2ca02c" stroke="#111" stroke-width="0.8"/><rect x="55.52" y="622.90" width="4.60" height="4.60" fill="#2ca02c" stroke="#111" stroke-width="0.8"/><rect x="66.35" y="623.91" width="4.60" height="4.60" fill="#2ca02c" stroke="#111" stroke-width="0.8"/><rect x="77.17" y="619.39" width="4.60" height="4.60" fill="#2ca02c" stroke="#111" stroke-width="0.8"/><rect x="87.99" y="614.87" width="4.60" height="4.60" fill="#2ca02c" stroke="#111" stroke-width="0.8"/><rect x="98.82" y="613.37" width="4.60" height="4.60" fill="#2ca02c" stroke="#111" stroke-width="0.8"/><rect x="109.64" y="609.85" width="4.60" height="4.60" fill="#2ca02c" stroke="#111" stroke-width="0.8"/><rect x="120.47" y="607.84" width="4.60" height="4.60" fill="#2ca02c" stroke="#111" stroke-width="0.8"/><rect x="131.29" y="608.10" width="4.60" height="4.60" fill="#2ca02c" stroke="#111" stroke-width="0.8"/><rect x="142.11" y="603.08" width="4.60" height="4.60" fill="#2ca02c" stroke="#111" stroke-width="0.8"/><rect x="152.94" y="602.07" width="4.60" height="4.60" fill="#2ca02c" stroke="#111" stroke-width="0.8"/><rect x="163.76" y="597.55" width="4.60" height="4.60" fill="#2ca02c" stroke="#111" stroke-width="0.8"/><rect x="174.59" y="593.03" width="4.60" height="4.60" fill="#2ca02c" stroke="#111" stroke-width="0.8"/><rect x="185.41" y="584.75" width="4.60" height="4.60" fill="#2ca02c" stroke="#111" stroke-width="0.8"/><rect x="196.23" y="578.48" width="4.60" height="4.60" fill="#2ca02c" stroke="#111" stroke-width="0.8"/><rect x="207.06" y="570.19" width="4.60" height="4.60" fill="#2ca02c" stroke="#111" stroke-width="0.8"/><rect x="217.88" y="570.19" width="4.60" height="4.60" fill="#2ca02c" stroke="#111" stroke-width="0.8"/><rect x="228.71" y="584.25" width="4.60" height="4.60" fill="#2ca02c" stroke="#111" stroke-width="0.8"/><rect x="239.53" y="578.23" width="4.60" height="4.60" fill="#2ca02c" stroke="#111" stroke-width="0.8"/><rect x="250.35" y="573.96" width="4.60" height="4.60" fill="#2ca02c" stroke="#111" stroke-width="0.8"/><rect x="261.18" y="556.39" width="4.60" height="4.60" fill="#2ca02c" stroke="#111" stroke-width="0.8"/><rect x="272.00" y="542.84" width="4.60" height="4.60" fill="#2ca02c" stroke="#111" stroke-width="0.8"/><rect x="282.83" y="542.84" width="4.60" height="4.60" fill="#2ca02c" stroke="#111" stroke-width="0.8"/>
<polyline points="25.35,624.20 30.76,622.94 36.17,621.69 41.59,622.19 47.00,622.69 52.41,624.45 57.82,626.21 63.23,628.84 68.65,631.48 74.06,631.86 79.47,632.23 84.88,632.11 90.29,631.98 95.71,630.85 101.12,629.72 106.53,629.60 111.94,629.47 117.35,628.84 122.77,628.22 128.18,627.96 133.59,627.71 139.00,627.09 144.41,626.46 149.83,626.33 155.24,626.21 160.65,625.08 166.06,623.95 171.47,624.45 176.89,624.95 182.30,622.82 187.71,620.69 193.12,619.43 198.53,618.18 203.95,617.05 209.36,615.92 214.77,611.90 220.18,607.88 225.59,606.00 231.01,604.12 236.42,603.12 241.83,602.11 247.24,609.14 252.65,609.89 258.07,609.89 263.48,609.89 268.89,606.25 274.30,602.61 279.71,601.99 285.13,601.36 290.54,602.87" stroke="#ff7f0e" stroke-width="1.1" fill="none" stroke-linejoin="round"/>
<path d="M22.45,622.20L28.25,622.20L25.35,627.20Z" fill="#ff7f0e" stroke="#111" stroke-width="0.8" stroke-linejoin="miter"/><path d="M33.27,619.69L39.07,619.69L36.17,624.69Z" fill="#ff7f0e" stroke="#111" stroke-width="0.8" stroke-linejoin="miter"/><path d="M44.10,620.69L49.90,620.69L47.00,625.69Z" fill="#ff7f0e" stroke="#111" stroke-width="0.8" stroke-linejoin="miter"/><path d="M54.92,624.21L60.72,624.21L57.82,629.21Z" fill="#ff7f0e" stroke="#111" stroke-width="0.8" stroke-linejoin="miter"/><path d="M65.75,629.48L71.55,629.48L68.65,634.48Z" fill="#ff7f0e" stroke="#111" stroke-width="0.8" stroke-linejoin="miter"/><path d="M76.57,630.23L82.37,630.23L79.47,635.23Z" fill="#ff7f0e" stroke="#111" stroke-width="0.8" stroke-linejoin="miter"/><path d="M87.39,629.98L93.19,629.98L90.29,634.98Z" fill="#ff7f0e" stroke="#111" stroke-width="0.8" stroke-linejoin="miter"/><path d="M98.22,627.72L104.02,627.72L101.12,632.72Z" fill="#ff7f0e" stroke="#111" stroke-width="0.8" stroke-linejoin="miter"/><path d="M109.04,627.47L114.84,627.47L111.94,632.47Z" fill="#ff7f0e" stroke="#111" stroke-width="0.8" stroke-linejoin="miter"/><path d="M119.87,626.22L125.67,626.22L122.77,631.22Z" fill="#ff7f0e" stroke="#111" stroke-width="0.8" stroke-linejoin="miter"/><path d="M130.69,625.71L136.49,625.71L133.59,630.71Z" fill="#ff7f0e" stroke="#111" stroke-width="0.8" stroke-linejoin="miter"/><path d="M141.51,624.46L147.31,624.46L144.41,629.46Z" fill="#ff7f0e" stroke="#111" stroke-width="0.8" stroke-linejoin="miter"/><path d="M152.34,624.21L158.14,624.21L155.24,629.21Z" fill="#ff7f0e" stroke="#111" stroke-width="0.8" stroke-linejoin="miter"/><path d="M163.16,621.95L168.96,621.95L166.06,626.95Z" fill="#ff7f0e" stroke="#111" stroke-width="0.8" stroke-linejoin="miter"/><path d="M173.99,622.95L179.79,622.95L176.89,627.95Z" fill="#ff7f0e" stroke="#111" stroke-width="0.8" stroke-linejoin="miter"/><path d="M184.81,618.69L190.61,618.69L187.71,623.69Z" fill="#ff7f0e" stroke="#111" stroke-width="0.8" stroke-linejoin="miter"/><path d="M195.63,616.18L201.43,616.18L198.53,621.18Z" fill="#ff7f0e" stroke="#111" stroke-width="0.8" stroke-linejoin="miter"/><path d="M206.46,613.92L212.26,613.92L209.36,618.92Z" fill="#ff7f0e" stroke="#111" stroke-width="0.8" stroke-linejoin="miter"/><path d="M217.28,605.88L223.08,605.88L220.18,610.88Z" fill="#ff7f0e" stroke="#111" stroke-width="0.8" stroke-linejoin="miter"/><path d="M228.11,602.12L233.91,602.12L231.01,607.12Z" fill="#ff7f0e" stroke="#111" stroke-width="0.8" stroke-linejoin="miter"/><path d="M238.93,600.11L244.73,600.11L241.83,605.11Z" fill="#ff7f0e" stroke="#111" stroke-width="0.8" stroke-linejoin="miter"/><path d="M249.75,607.89L255.55,607.89L252.65,612.89Z" fill="#ff7f0e" stroke="#111" stroke-width="0.8" stroke-linejoin="miter"/><path d="M260.58,607.89L266.38,607.89L263.48,612.89Z" fill="#ff7f0e" stroke="#111" stroke-width="0.8" stroke-linejoin="miter"/><path d="M271.40,600.61L277.20,600.61L274.30,605.61Z" fill="#ff7f0e" stroke="#111" stroke-width="0.8" stroke-linejoin="miter"/><path d="M282.23,599.36L288.03,599.36L285.13,604.36Z" fill="#ff7f0e" stroke="#111" stroke-width="0.8" stroke-linejoin="miter"/>
<path d="M25.35,500.20H95.71V518.84H252.65V537.48H290.54V537.48" stroke="#1f77b4" stroke-width="1.3" stroke-dasharray="4.3 4.1" fill="none" stroke-opacity="0.85"/>
<path d="M25.35,500.20H106.53V518.84H122.77V537.48H285.13V556.11H290.54V556.11" stroke="#9467bd" stroke-width="1.2" stroke-dasharray="3.6 1.8" fill="none" stroke-opacity="0.85"/>
<path d="M25.35,500.20H209.36V518.84H225.59V556.11H274.30V574.75H285.13V593.39H290.54V593.39" stroke="#2ca02c" stroke-width="1.3" stroke-dasharray="3.0 3.3" fill="none" stroke-opacity="0.85"/>
<path d="M25.35,500.20H241.83V516.75H290.54V516.75" stroke="#ff7f0e" stroke-width="1.2" stroke-dasharray="1.1 1.1" fill="none" stroke-opacity="0.85"/>
</g>
<path d="M25.35,498.70V649.30H295.95V498.70Z" fill="none" stroke="#262626" stroke-width="0.9"/>
<path d="M22.75,649.30H25.35M22.75,624.20H25.35M22.75,599.10H25.35M22.75,574.00H25.35M22.75,548.90H25.35M22.75,523.80H25.35M22.75,498.70H25.35M25.35,649.30V651.90M52.41,649.30V651.90M79.47,649.30V651.90M106.53,649.30V651.90M133.59,649.30V651.90M160.65,649.30V651.90M187.71,649.30V651.90M214.77,649.30V651.90M241.83,649.30V651.90M268.89,649.30V651.90M295.95,649.30V651.90M295.95,649.30H298.55M295.95,619.48H298.55M295.95,589.66H298.55M295.95,559.84H298.55M295.95,530.02H298.55M295.95,500.20H298.55" stroke="#262626" stroke-width="0.8"/>
<text x="20.25" y="652.15" font-size="8.3" text-anchor="end" textLength="4.93" lengthAdjust="spacingAndGlyphs" fill="#111" stroke="#111" stroke-width="0.12">0</text>
<text x="20.25" y="627.05" font-size="8.3" text-anchor="end" textLength="4.93" lengthAdjust="spacingAndGlyphs" fill="#111" stroke="#111" stroke-width="0.12">1</text>
<text x="20.25" y="601.95" font-size="8.3" text-anchor="end" textLength="4.93" lengthAdjust="spacingAndGlyphs" fill="#111" stroke="#111" stroke-width="0.12">2</text>
<text x="20.25" y="576.85" font-size="8.3" text-anchor="end" textLength="4.93" lengthAdjust="spacingAndGlyphs" fill="#111" stroke="#111" stroke-width="0.12">3</text>
<text x="20.25" y="551.75" font-size="8.3" text-anchor="end" textLength="4.93" lengthAdjust="spacingAndGlyphs" fill="#111" stroke="#111" stroke-width="0.12">4</text>
<text x="20.25" y="526.65" font-size="8.3" text-anchor="end" textLength="4.93" lengthAdjust="spacingAndGlyphs" fill="#111" stroke="#111" stroke-width="0.12">5</text>
<text x="20.25" y="501.55" font-size="8.3" text-anchor="end" textLength="4.93" lengthAdjust="spacingAndGlyphs" fill="#111" stroke="#111" stroke-width="0.12">6</text>
<text x="25.35" y="660.20" font-size="8.3" text-anchor="middle" textLength="4.93" lengthAdjust="spacingAndGlyphs" fill="#111" stroke="#111" stroke-width="0.12">0</text>
<text x="52.41" y="660.20" font-size="8.3" text-anchor="middle" textLength="4.93" lengthAdjust="spacingAndGlyphs" fill="#111" stroke="#111" stroke-width="0.12">5</text>
<text x="79.47" y="660.20" font-size="8.3" text-anchor="middle" textLength="9.86" lengthAdjust="spacingAndGlyphs" fill="#111" stroke="#111" stroke-width="0.12">10</text>
<text x="106.53" y="660.20" font-size="8.3" text-anchor="middle" textLength="9.86" lengthAdjust="spacingAndGlyphs" fill="#111" stroke="#111" stroke-width="0.12">15</text>
<text x="133.59" y="660.20" font-size="8.3" text-anchor="middle" textLength="9.86" lengthAdjust="spacingAndGlyphs" fill="#111" stroke="#111" stroke-width="0.12">20</text>
<text x="160.65" y="660.20" font-size="8.3" text-anchor="middle" textLength="9.86" lengthAdjust="spacingAndGlyphs" fill="#111" stroke="#111" stroke-width="0.12">25</text>
<text x="187.71" y="660.20" font-size="8.3" text-anchor="middle" textLength="9.86" lengthAdjust="spacingAndGlyphs" fill="#111" stroke="#111" stroke-width="0.12">30</text>
<text x="214.77" y="660.20" font-size="8.3" text-anchor="middle" textLength="9.86" lengthAdjust="spacingAndGlyphs" fill="#111" stroke="#111" stroke-width="0.12">35</text>
<text x="241.83" y="660.20" font-size="8.3" text-anchor="middle" textLength="9.86" lengthAdjust="spacingAndGlyphs" fill="#111" stroke="#111" stroke-width="0.12">40</text>
<text x="268.89" y="660.20" font-size="8.3" text-anchor="middle" textLength="9.86" lengthAdjust="spacingAndGlyphs" fill="#111" stroke="#111" stroke-width="0.12">45</text>
<text x="295.95" y="660.20" font-size="8.3" text-anchor="middle" textLength="9.86" lengthAdjust="spacingAndGlyphs" fill="#111" stroke="#111" stroke-width="0.12">50</text>
<text x="301.25" y="652.15" font-size="8.3" text-anchor="start" textLength="12.33" lengthAdjust="spacingAndGlyphs" fill="#111" stroke="#111" stroke-width="0.12">0.0</text>
<text x="301.25" y="622.33" font-size="8.3" text-anchor="start" textLength="12.33" lengthAdjust="spacingAndGlyphs" fill="#111" stroke="#111" stroke-width="0.12">0.2</text>
<text x="301.25" y="592.51" font-size="8.3" text-anchor="start" textLength="12.33" lengthAdjust="spacingAndGlyphs" fill="#111" stroke="#111" stroke-width="0.12">0.4</text>
<text x="301.25" y="562.69" font-size="8.3" text-anchor="start" textLength="12.33" lengthAdjust="spacingAndGlyphs" fill="#111" stroke="#111" stroke-width="0.12">0.6</text>
<text x="301.25" y="532.87" font-size="8.3" text-anchor="start" textLength="12.33" lengthAdjust="spacingAndGlyphs" fill="#111" stroke="#111" stroke-width="0.12">0.8</text>
<text x="301.25" y="503.05" font-size="8.3" text-anchor="start" textLength="12.33" lengthAdjust="spacingAndGlyphs" fill="#111" stroke="#111" stroke-width="0.12">1.0</text>
<text x="160.65" y="495.00" font-size="10.0" text-anchor="middle" textLength="40.85" lengthAdjust="spacingAndGlyphs" fill="#111" stroke="#111" stroke-width="0.12">d) 15 Gy</text>
<text x="160.65" y="671.90" font-size="10.0" text-anchor="middle" textLength="56.10" lengthAdjust="spacingAndGlyphs" fill="#111" stroke="#111" stroke-width="0.12">Time [days]</text>
<text x="10.75" y="574.00" font-size="10.0" text-anchor="middle" textLength="109.34" lengthAdjust="spacingAndGlyphs" fill="#111" stroke="#111" stroke-width="0.12" transform="rotate(-90 10.75 574.00)">Relative tumor volume</text>
<text x="324.35" y="574.50" font-size="10.0" text-anchor="middle" textLength="142.67" lengthAdjust="spacingAndGlyphs" fill="#111" stroke="#111" stroke-width="0.12" transform="rotate(-90 324.35 574.50)">Fraction of animals remaining</text>
<text x="335.05" y="572.50" font-size="10.0" text-anchor="middle" textLength="66.25" lengthAdjust="spacingAndGlyphs" fill="#111" stroke="#111" stroke-width="0.12" transform="rotate(-90 335.05 572.50)">in experiment</text>
<clipPath id="clip4"><rect x="369.70" y="496.50" width="270.60" height="150.80"/></clipPath>
<g clip-path="url(#clip4)">
<path d="M369.70,620.91V623.42M375.11,619.45V622.12M380.52,617.99V620.81M385.94,619.05V622.02M391.35,620.11V623.22M396.76,621.92V625.18M402.17,623.72V627.14M407.58,624.91V628.48M413.00,626.09V629.81M418.41,626.14V630.01M423.82,626.19V630.21M429.23,626.09V630.31M434.64,625.99V630.41M440.06,625.89V630.51M445.47,625.79V630.61M450.88,624.81V629.83M456.29,623.83V629.05M461.70,623.85V629.28M467.12,623.88V629.51M472.53,623.90V629.73M477.94,623.93V629.96M483.35,623.85V630.28M488.76,623.78V630.61M494.18,621.94V629.18M499.59,620.11V627.75M505.00,619.40V627.44M510.41,618.70V627.14M515.82,620.13V628.98M521.24,621.56V630.81M526.65,619.73V629.38M532.06,617.89V627.95M537.47,617.10V627.99M542.88,616.30V628.03M548.30,613.87V626.44M553.71,611.44V624.85M559.12,608.76V623.00M564.53,615.38V630.46M569.94,616.57V632.28M575.36,617.77V634.10M580.77,615.69V632.66M586.18,613.62V631.21M591.59,612.62V631.47M597.00,611.61V631.72M602.42,611.23V632.60M607.83,610.86V633.48M613.24,610.10V633.98M618.65,609.35V634.48M624.06,608.76V635.57M629.48,608.18V636.66M634.89,607.09V637.25" stroke="#1f77b4" stroke-width="1.35" stroke-opacity="0.7" fill="none"/>
<path d="M369.70,620.91V623.42M375.11,619.83V622.49M380.52,618.75V621.56M385.94,620.68V623.65M391.35,622.62V625.74M396.76,623.67V626.94M402.17,624.73V628.15M407.58,625.91V629.48M413.00,627.09V630.81M418.41,628.40V632.27M423.82,629.71V633.73M429.23,629.66V633.78M434.64,629.61V633.83M440.06,631.06V635.39M445.47,632.52V636.95M450.88,631.47V635.99M456.29,630.41V635.03M461.70,631.62V636.34M467.12,632.82V637.65M472.53,632.40V637.32M477.94,631.97V637.00M483.35,631.09V636.37M488.76,630.21V635.74M494.18,629.96V635.74M499.59,629.71V635.74M505.00,630.08V636.37M510.41,630.46V637.00M515.82,630.71V637.50M521.24,630.96V638.00M526.65,630.84V638.13M532.06,630.71V638.25M537.47,631.09V639.13M542.88,631.47V640.01M548.30,630.21V639.26M553.71,628.95V638.50M559.12,628.20V638.25M564.53,627.44V638.00M569.94,627.07V638.13M575.36,626.69V638.25M580.77,624.68V636.74M586.18,622.67V635.24M591.59,621.75V635.15M597.00,620.83V635.07M602.42,621.04V636.12M607.83,621.25V637.16M613.24,620.95V637.71M618.65,620.66V638.25M624.06,618.98V637.41M629.48,617.31V636.58M634.89,615.63V635.74" stroke="#9467bd" stroke-width="1.35" stroke-opacity="0.7" fill="none"/>
<path d="M369.70,620.91V623.42M375.11,618.65V621.41M380.52,616.39V619.40M385.94,617.14V620.41M391.35,617.89V621.41M396.76,620.03V623.80M402.17,622.17V626.19M407.58,622.29V626.56M413.00,622.42V626.94M418.41,623.42V628.20M423.82,624.43V629.46M429.23,624.30V629.58M434.64,624.18V629.71M440.06,622.92V628.70M445.47,621.66V627.70M450.88,620.41V626.69M456.29,619.15V625.69M461.70,618.40V625.18M467.12,617.64V624.68M472.53,617.52V624.81M477.94,617.39V624.93M483.35,616.39V624.18M488.76,615.38V623.42M494.18,615.51V623.80M499.59,615.63V624.18M505.00,613.37V622.17M510.41,611.11V620.16M515.82,611.74V621.04M521.24,612.36V621.92M526.65,611.49V621.29M532.06,610.61V620.66M537.47,610.10V620.41M542.88,609.60V620.16M548.30,607.09V617.89M553.71,604.57V615.63M559.12,604.70V616.01M564.53,604.82V616.39M569.94,602.81V614.63M575.36,600.80V612.87M580.77,600.68V612.99M586.18,600.55V613.12M591.59,599.71V612.70M597.00,598.88V612.28M602.42,595.15V608.97M607.83,591.42V605.66M613.24,589.45V604.11M618.65,587.48V602.56M624.06,584.13V600.89M629.48,580.78V599.21M634.89,578.18V598.29" stroke="#2ca02c" stroke-width="1.35" stroke-opacity="0.7" fill="none"/>
<path d="M369.70,620.91V623.42M375.11,620.28V623.05M380.52,619.65V622.67M385.94,620.28V623.55M391.35,620.91V624.43M396.76,622.42V626.19M402.17,623.93V627.95M407.58,626.19V630.46M413.00,628.45V632.97M418.41,631.09V635.86M423.82,633.73V638.75M429.23,634.86V640.14M434.64,632.22V637.75M440.06,631.97V637.75M445.47,631.72V637.75M450.88,630.84V637.12M456.29,629.96V636.49M461.70,629.33V636.12M467.12,628.70V635.74M472.53,627.19V634.48M477.94,625.69V633.23M483.35,625.56V633.35M488.76,625.43V633.48M494.18,625.18V633.48M499.59,624.93V633.48M505.00,624.43V633.23M510.41,623.93V632.97M515.82,623.42V632.72M521.24,622.92V632.47M526.65,622.79V632.60M532.06,622.67V632.72M537.47,621.41V631.97M542.88,620.16V631.21M548.30,620.91V632.47M553.71,621.66V633.73M559.12,622.54V635.11M564.53,623.42V636.49M569.94,622.42V635.99M575.36,621.41V635.49M580.77,620.91V635.49M586.18,620.41V635.49M591.59,618.73V634.65M597.00,617.06V633.81M602.42,616.26V633.85M607.83,615.46V633.90M613.24,612.28V631.55M618.65,609.10V629.20M624.06,609.94V630.88M629.48,610.77V632.56M634.89,609.60V632.22" stroke="#ff7f0e" stroke-width="1.35" stroke-opacity="0.7" fill="none"/>
<polyline points="369.70,622.17 375.11,620.78 380.52,619.40 385.94,620.53 391.35,621.66 396.76,623.55 402.17,625.43 407.58,626.69 413.00,627.95 418.41,628.07 423.82,628.20 429.23,628.20 434.64,628.20 440.06,628.20 445.47,628.20 450.88,627.32 456.29,626.44 461.70,626.56 467.12,626.69 472.53,626.82 477.94,626.94 483.35,627.07 488.76,627.19 494.18,625.56 499.59,623.93 505.00,623.42 510.41,622.92 515.82,624.55 521.24,626.19 526.65,624.55 532.06,622.92 537.47,622.54 542.88,622.17 548.30,620.16 553.71,618.15 559.12,615.88 564.53,622.92 569.94,624.43 575.36,625.94 580.77,624.18 586.18,622.42 591.59,622.04 597.00,621.66 602.42,621.92 607.83,622.17 613.24,622.04 618.65,621.92 624.06,622.17 629.48,622.42 634.89,622.17" stroke="#1f77b4" stroke-width="1.1" fill="none" stroke-linejoin="round"/>
<circle cx="369.70" cy="622.17" r="2.35" fill="#1f77b4" stroke="#111" stroke-width="0.8"/><circle cx="380.52" cy="619.40" r="2.35" fill="#1f77b4" stroke="#111" stroke-width="0.8"/><circle cx="391.35" cy="621.66" r="2.35" fill="#1f77b4" stroke="#111" stroke-width="0.8"/><circle cx="402.17" cy="625.43" r="2.35" fill="#1f77b4" stroke="#111" stroke-width="0.8"/><circle cx="413.00" cy="627.95" r="2.35" fill="#1f77b4" stroke="#111" stroke-width="0.8"/><circle cx="423.82" cy="628.20" r="2.35" fill="#1f77b4" stroke="#111" stroke-width="0.8"/><circle cx="434.64" cy="628.20" r="2.35" fill="#1f77b4" stroke="#111" stroke-width="0.8"/><circle cx="445.47" cy="628.20" r="2.35" fill="#1f77b4" stroke="#111" stroke-width="0.8"/><circle cx="456.29" cy="626.44" r="2.35" fill="#1f77b4" stroke="#111" stroke-width="0.8"/><circle cx="467.12" cy="626.69" r="2.35" fill="#1f77b4" stroke="#111" stroke-width="0.8"/><circle cx="477.94" cy="626.94" r="2.35" fill="#1f77b4" stroke="#111" stroke-width="0.8"/><circle cx="488.76" cy="627.19" r="2.35" fill="#1f77b4" stroke="#111" stroke-width="0.8"/><circle cx="499.59" cy="623.93" r="2.35" fill="#1f77b4" stroke="#111" stroke-width="0.8"/><circle cx="510.41" cy="622.92" r="2.35" fill="#1f77b4" stroke="#111" stroke-width="0.8"/><circle cx="521.24" cy="626.19" r="2.35" fill="#1f77b4" stroke="#111" stroke-width="0.8"/><circle cx="532.06" cy="622.92" r="2.35" fill="#1f77b4" stroke="#111" stroke-width="0.8"/><circle cx="542.88" cy="622.17" r="2.35" fill="#1f77b4" stroke="#111" stroke-width="0.8"/><circle cx="553.71" cy="618.15" r="2.35" fill="#1f77b4" stroke="#111" stroke-width="0.8"/><circle cx="564.53" cy="622.92" r="2.35" fill="#1f77b4" stroke="#111" stroke-width="0.8"/><circle cx="575.36" cy="625.94" r="2.35" fill="#1f77b4" stroke="#111" stroke-width="0.8"/><circle cx="586.18" cy="622.42" r="2.35" fill="#1f77b4" stroke="#111" stroke-width="0.8"/><circle cx="597.00" cy="621.66" r="2.35" fill="#1f77b4" stroke="#111" stroke-width="0.8"/><circle cx="607.83" cy="622.17" r="2.35" fill="#1f77b4" stroke="#111" stroke-width="0.8"/><circle cx="618.65" cy="621.92" r="2.35" fill="#1f77b4" stroke="#111" stroke-width="0.8"/><circle cx="629.48" cy="622.42" r="2.35" fill="#1f77b4" stroke="#111" stroke-width="0.8"/>
<polyline points="369.70,622.17 375.11,621.16 380.52,620.16 385.94,622.17 391.35,624.18 396.76,625.31 402.17,626.44 407.58,627.70 413.00,628.95 418.41,630.33 423.82,631.72 429.23,631.72 434.64,631.72 440.06,633.23 445.47,634.73 450.88,633.73 456.29,632.72 461.70,633.98 467.12,635.24 472.53,634.86 477.94,634.48 483.35,633.73 488.76,632.97 494.18,632.85 499.59,632.72 505.00,633.23 510.41,633.73 515.82,634.10 521.24,634.48 526.65,634.48 532.06,634.48 537.47,635.11 542.88,635.74 548.30,634.73 553.71,633.73 559.12,633.23 564.53,632.72 569.94,632.60 575.36,632.47 580.77,630.71 586.18,628.95 591.59,628.45 597.00,627.95 602.42,628.58 607.83,629.20 613.24,629.33 618.65,629.46 624.06,628.20 629.48,626.94 634.89,625.69" stroke="#9467bd" stroke-width="1.1" fill="none" stroke-linejoin="round"/>
<path d="M368.30,619.72L369.70,621.12L371.10,619.72L372.15,620.77L370.75,622.17L372.15,623.57L371.10,624.62L369.70,623.22L368.30,624.62L367.25,623.57L368.65,622.17L367.25,620.77Z" fill="#6a4a8e" stroke="#1a1020" stroke-width="1.0" stroke-linejoin="round"/><path d="M379.12,617.71L380.52,619.11L381.92,617.71L382.97,618.76L381.57,620.16L382.97,621.56L381.92,622.61L380.52,621.21L379.12,622.61L378.07,621.56L379.47,620.16L378.07,618.76Z" fill="#6a4a8e" stroke="#1a1020" stroke-width="1.0" stroke-linejoin="round"/><path d="M389.95,621.73L391.35,623.13L392.75,621.73L393.80,622.78L392.40,624.18L393.80,625.58L392.75,626.63L391.35,625.23L389.95,626.63L388.90,625.58L390.30,624.18L388.90,622.78Z" fill="#6a4a8e" stroke="#1a1020" stroke-width="1.0" stroke-linejoin="round"/><path d="M400.77,623.99L402.17,625.39L403.57,623.99L404.62,625.04L403.22,626.44L404.62,627.84L403.57,628.89L402.17,627.49L400.77,628.89L399.72,627.84L401.12,626.44L399.72,625.04Z" fill="#6a4a8e" stroke="#1a1020" stroke-width="1.0" stroke-linejoin="round"/><path d="M411.60,626.50L413.00,627.90L414.40,626.50L415.45,627.55L414.05,628.95L415.45,630.35L414.40,631.40L413.00,630.00L411.60,631.40L410.55,630.35L411.95,628.95L410.55,627.55Z" fill="#6a4a8e" stroke="#1a1020" stroke-width="1.0" stroke-linejoin="round"/><path d="M422.42,629.27L423.82,630.67L425.22,629.27L426.27,630.32L424.87,631.72L426.27,633.12L425.22,634.17L423.82,632.77L422.42,634.17L421.37,633.12L422.77,631.72L421.37,630.32Z" fill="#6a4a8e" stroke="#1a1020" stroke-width="1.0" stroke-linejoin="round"/><path d="M433.24,629.27L434.64,630.67L436.04,629.27L437.09,630.32L435.69,631.72L437.09,633.12L436.04,634.17L434.64,632.77L433.24,634.17L432.19,633.12L433.59,631.72L432.19,630.32Z" fill="#6a4a8e" stroke="#1a1020" stroke-width="1.0" stroke-linejoin="round"/><path d="M444.07,632.28L445.47,633.68L446.87,632.28L447.92,633.33L446.52,634.73L447.92,636.13L446.87,637.18L445.47,635.78L444.07,637.18L443.02,636.13L444.42,634.73L443.02,633.33Z" fill="#6a4a8e" stroke="#1a1020" stroke-width="1.0" stroke-linejoin="round"/><path d="M454.89,630.27L456.29,631.67L457.69,630.27L458.74,631.32L457.34,632.72L458.74,634.12L457.69,635.17L456.29,633.77L454.89,635.17L453.84,634.12L455.24,632.72L453.84,631.32Z" fill="#6a4a8e" stroke="#1a1020" stroke-width="1.0" stroke-linejoin="round"/><path d="M465.72,632.79L467.12,634.19L468.52,632.79L469.57,633.84L468.17,635.24L469.57,636.64L468.52,637.69L467.12,636.29L465.72,637.69L464.67,636.64L466.07,635.24L464.67,633.84Z" fill="#6a4a8e" stroke="#1a1020" stroke-width="1.0" stroke-linejoin="round"/><path d="M476.54,632.03L477.94,633.43L479.34,632.03L480.39,633.08L478.99,634.48L480.39,635.88L479.34,636.93L477.94,635.53L476.54,636.93L475.49,635.88L476.89,634.48L475.49,633.08Z" fill="#6a4a8e" stroke="#1a1020" stroke-width="1.0" stroke-linejoin="round"/><path d="M487.36,630.52L488.76,631.92L490.16,630.52L491.21,631.57L489.81,632.97L491.21,634.37L490.16,635.42L488.76,634.02L487.36,635.42L486.31,634.37L487.71,632.97L486.31,631.57Z" fill="#6a4a8e" stroke="#1a1020" stroke-width="1.0" stroke-linejoin="round"/><path d="M498.19,630.27L499.59,631.67L500.99,630.27L502.04,631.32L500.64,632.72L502.04,634.12L500.99,635.17L499.59,633.77L498.19,635.17L497.14,634.12L498.54,632.72L497.14,631.32Z" fill="#6a4a8e" stroke="#1a1020" stroke-width="1.0" stroke-linejoin="round"/><path d="M509.01,631.28L510.41,632.68L511.81,631.28L512.86,632.33L511.46,633.73L512.86,635.13L511.81,636.18L510.41,634.78L509.01,636.18L507.96,635.13L509.36,633.73L507.96,632.33Z" fill="#6a4a8e" stroke="#1a1020" stroke-width="1.0" stroke-linejoin="round"/><path d="M519.84,632.03L521.24,633.43L522.64,632.03L523.69,633.08L522.29,634.48L523.69,635.88L522.64,636.93L521.24,635.53L519.84,636.93L518.79,635.88L520.19,634.48L518.79,633.08Z" fill="#6a4a8e" stroke="#1a1020" stroke-width="1.0" stroke-linejoin="round"/><path d="M530.66,632.03L532.06,633.43L533.46,632.03L534.51,633.08L533.11,634.48L534.51,635.88L533.46,636.93L532.06,635.53L530.66,636.93L529.61,635.88L531.01,634.48L529.61,633.08Z" fill="#6a4a8e" stroke="#1a1020" stroke-width="1.0" stroke-linejoin="round"/><path d="M541.48,633.29L542.88,634.69L544.28,633.29L545.33,634.34L543.93,635.74L545.33,637.14L544.28,638.19L542.88,636.79L541.48,638.19L540.43,637.14L541.83,635.74L540.43,634.34Z" fill="#6a4a8e" stroke="#1a1020" stroke-width="1.0" stroke-linejoin="round"/><path d="M552.31,631.28L553.71,632.68L555.11,631.28L556.16,632.33L554.76,633.73L556.16,635.13L555.11,636.18L553.71,634.78L552.31,636.18L551.26,635.13L552.66,633.73L551.26,632.33Z" fill="#6a4a8e" stroke="#1a1020" stroke-width="1.0" stroke-linejoin="round"/><path d="M563.13,630.27L564.53,631.67L565.93,630.27L566.98,631.32L565.58,632.72L566.98,634.12L565.93,635.17L564.53,633.77L563.13,635.17L562.08,634.12L563.48,632.72L562.08,631.32Z" fill="#6a4a8e" stroke="#1a1020" stroke-width="1.0" stroke-linejoin="round"/><path d="M573.96,630.02L575.36,631.42L576.76,630.02L577.81,631.07L576.41,632.47L577.81,633.87L576.76,634.92L575.36,633.52L573.96,634.92L572.91,633.87L574.31,632.47L572.91,631.07Z" fill="#6a4a8e" stroke="#1a1020" stroke-width="1.0" stroke-linejoin="round"/><path d="M584.78,626.50L586.18,627.90L587.58,626.50L588.63,627.55L587.23,628.95L588.63,630.35L587.58,631.40L586.18,630.00L584.78,631.40L583.73,630.35L585.13,628.95L583.73,627.55Z" fill="#6a4a8e" stroke="#1a1020" stroke-width="1.0" stroke-linejoin="round"/><path d="M595.60,625.50L597.00,626.90L598.40,625.50L599.45,626.55L598.05,627.95L599.45,629.35L598.40,630.40L597.00,629.00L595.60,630.40L594.55,629.35L595.95,627.95L594.55,626.55Z" fill="#6a4a8e" stroke="#1a1020" stroke-width="1.0" stroke-linejoin="round"/><path d="M606.43,626.75L607.83,628.15L609.23,626.75L610.28,627.80L608.88,629.20L610.28,630.60L609.23,631.65L607.83,630.25L606.43,631.65L605.38,630.60L606.78,629.20L605.38,627.80Z" fill="#6a4a8e" stroke="#1a1020" stroke-width="1.0" stroke-linejoin="round"/><path d="M617.25,627.01L618.65,628.41L620.05,627.01L621.10,628.06L619.70,629.46L621.10,630.86L620.05,631.91L618.65,630.51L617.25,631.91L616.20,630.86L617.60,629.46L616.20,628.06Z" fill="#6a4a8e" stroke="#1a1020" stroke-width="1.0" stroke-linejoin="round"/><path d="M628.08,624.49L629.48,625.89L630.88,624.49L631.93,625.54L630.53,626.94L631.93,628.34L630.88,629.39L629.48,627.99L628.08,629.39L627.03,628.34L628.43,626.94L627.03,625.54Z" fill="#6a4a8e" stroke="#1a1020" stroke-width="1.0" stroke-linejoin="round"/>
<polyline points="369.70,622.17 375.11,620.03 380.52,617.89 385.94,618.77 391.35,619.65 396.76,621.92 402.17,624.18 407.58,624.43 413.00,624.68 418.41,625.81 423.82,626.94 429.23,626.94 434.64,626.94 440.06,625.81 445.47,624.68 450.88,623.55 456.29,622.42 461.70,621.79 467.12,621.16 472.53,621.16 477.94,621.16 483.35,620.28 488.76,619.40 494.18,619.65 499.59,619.90 505.00,617.77 510.41,615.63 515.82,616.39 521.24,617.14 526.65,616.39 532.06,615.63 537.47,615.25 542.88,614.88 548.30,612.49 553.71,610.10 559.12,610.35 564.53,610.61 569.94,608.72 575.36,606.84 580.77,606.84 586.18,606.84 591.59,606.21 597.00,605.58 602.42,602.06 607.83,598.54 613.24,596.78 618.65,595.02 624.06,592.51 629.48,590.00 634.89,588.24" stroke="#2ca02c" stroke-width="1.1" fill="none" stroke-linejoin="round"/>
<rect x="367.40" y="619.87" width="4.60" height="4.60" fill="#2ca02c" stroke="#111" stroke-width="0.8"/><rect x="378.22" y="615.59" width="4.60" height="4.60" fill="#2ca02c" stroke="#111" stroke-width="0.8"/><rect x="389.05" y="617.35" width="4.60" height="4.60" fill="#2ca02c" stroke="#111" stroke-width="0.8"/><rect x="399.87" y="621.88" width="4.60" height="4.60" fill="#2ca02c" stroke="#111" stroke-width="0.8"/><rect x="410.70" y="622.38" width="4.60" height="4.60" fill="#2ca02c" stroke="#111" stroke-width="0.8"/><rect x="421.52" y="624.64" width="4.60" height="4.60" fill="#2ca02c" stroke="#111" stroke-width="0.8"/><rect x="432.34" y="624.64" width="4.60" height="4.60" fill="#2ca02c" stroke="#111" stroke-width="0.8"/><rect x="443.17" y="622.38" width="4.60" height="4.60" fill="#2ca02c" stroke="#111" stroke-width="0.8"/><rect x="453.99" y="620.12" width="4.60" height="4.60" fill="#2ca02c" stroke="#111" stroke-width="0.8"/><rect x="464.82" y="618.86" width="4.60" height="4.60" fill="#2ca02c" stroke="#111" stroke-width="0.8"/><rect x="475.64" y="618.86" width="4.60" height="4.60" fill="#2ca02c" stroke="#111" stroke-width="0.8"/><rect x="486.46" y="617.10" width="4.60" height="4.60" fill="#2ca02c" stroke="#111" stroke-width="0.8"/><rect x="497.29" y="617.60" width="4.60" height="4.60" fill="#2ca02c" stroke="#111" stroke-width="0.8"/><rect x="508.11" y="613.33" width="4.60" height="4.60" fill="#2ca02c" stroke="#111" stroke-width="0.8"/><rect x="518.94" y="614.84" width="4.60" height="4.60" fill="#2ca02c" stroke="#111" stroke-width="0.8"/><rect x="529.76" y="613.33" width="4.60" height="4.60" fill="#2ca02c" stroke="#111" stroke-width="0.8"/><rect x="540.58" y="612.58" width="4.60" height="4.60" fill="#2ca02c" stroke="#111" stroke-width="0.8"/><rect x="551.41" y="607.80" width="4.60" height="4.60" fill="#2ca02c" stroke="#111" stroke-width="0.8"/><rect x="562.23" y="608.31" width="4.60" height="4.60" fill="#2ca02c" stroke="#111" stroke-width="0.8"/><rect x="573.06" y="604.54" width="4.60" height="4.60" fill="#2ca02c" stroke="#111" stroke-width="0.8"/><rect x="583.88" y="604.54" width="4.60" height="4.60" fill="#2ca02c" stroke="#111" stroke-width="0.8"/><rect x="594.70" y="603.28" width="4.60" height="4.60" fill="#2ca02c" stroke="#111" stroke-width="0.8"/><rect x="605.53" y="596.24" width="4.60" height="4.60" fill="#2ca02c" stroke="#111" stroke-width="0.8"/><rect x="616.35" y="592.72" width="4.60" height="4.60" fill="#2ca02c" stroke="#111" stroke-width="0.8"/><rect x="627.18" y="587.70" width="4.60" height="4.60" fill="#2ca02c" stroke="#111" stroke-width="0.8"/>
<polyline points="369.70,622.17 375.11,621.66 380.52,621.16 385.94,621.92 391.35,622.67 396.76,624.30 402.17,625.94 407.58,628.32 413.00,630.71 418.41,633.48 423.82,636.24 429.23,637.50 434.64,634.98 440.06,634.86 445.47,634.73 450.88,633.98 456.29,633.23 461.70,632.72 467.12,632.22 472.53,630.84 477.94,629.46 483.35,629.46 488.76,629.46 494.18,629.33 499.59,629.20 505.00,628.83 510.41,628.45 515.82,628.07 521.24,627.70 526.65,627.70 532.06,627.70 537.47,626.69 542.88,625.69 548.30,626.69 553.71,627.70 559.12,628.83 564.53,629.96 569.94,629.20 575.36,628.45 580.77,628.20 586.18,627.95 591.59,626.69 597.00,625.43 602.42,625.06 607.83,624.68 613.24,621.92 618.65,619.15 624.06,620.41 629.48,621.66 634.89,620.91" stroke="#ff7f0e" stroke-width="1.1" fill="none" stroke-linejoin="round"/>
<path d="M366.80,620.17L372.60,620.17L369.70,625.17Z" fill="#ff7f0e" stroke="#111" stroke-width="0.8" stroke-linejoin="miter"/><path d="M377.62,619.16L383.42,619.16L380.52,624.16Z" fill="#ff7f0e" stroke="#111" stroke-width="0.8" stroke-linejoin="miter"/><path d="M388.45,620.67L394.25,620.67L391.35,625.67Z" fill="#ff7f0e" stroke="#111" stroke-width="0.8" stroke-linejoin="miter"/><path d="M399.27,623.94L405.07,623.94L402.17,628.94Z" fill="#ff7f0e" stroke="#111" stroke-width="0.8" stroke-linejoin="miter"/><path d="M410.10,628.71L415.90,628.71L413.00,633.71Z" fill="#ff7f0e" stroke="#111" stroke-width="0.8" stroke-linejoin="miter"/><path d="M420.92,634.24L426.72,634.24L423.82,639.24Z" fill="#ff7f0e" stroke="#111" stroke-width="0.8" stroke-linejoin="miter"/><path d="M431.74,632.98L437.54,632.98L434.64,637.98Z" fill="#ff7f0e" stroke="#111" stroke-width="0.8" stroke-linejoin="miter"/><path d="M442.57,632.73L448.37,632.73L445.47,637.73Z" fill="#ff7f0e" stroke="#111" stroke-width="0.8" stroke-linejoin="miter"/><path d="M453.39,631.23L459.19,631.23L456.29,636.23Z" fill="#ff7f0e" stroke="#111" stroke-width="0.8" stroke-linejoin="miter"/><path d="M464.22,630.22L470.02,630.22L467.12,635.22Z" fill="#ff7f0e" stroke="#111" stroke-width="0.8" stroke-linejoin="miter"/><path d="M475.04,627.46L480.84,627.46L477.94,632.46Z" fill="#ff7f0e" stroke="#111" stroke-width="0.8" stroke-linejoin="miter"/><path d="M485.86,627.46L491.66,627.46L488.76,632.46Z" fill="#ff7f0e" stroke="#111" stroke-width="0.8" stroke-linejoin="miter"/><path d="M496.69,627.20L502.49,627.20L499.59,632.20Z" fill="#ff7f0e" stroke="#111" stroke-width="0.8" stroke-linejoin="miter"/><path d="M507.51,626.45L513.31,626.45L510.41,631.45Z" fill="#ff7f0e" stroke="#111" stroke-width="0.8" stroke-linejoin="miter"/><path d="M518.34,625.70L524.14,625.70L521.24,630.70Z" fill="#ff7f0e" stroke="#111" stroke-width="0.8" stroke-linejoin="miter"/><path d="M529.16,625.70L534.96,625.70L532.06,630.70Z" fill="#ff7f0e" stroke="#111" stroke-width="0.8" stroke-linejoin="miter"/><path d="M539.98,623.69L545.78,623.69L542.88,628.69Z" fill="#ff7f0e" stroke="#111" stroke-width="0.8" stroke-linejoin="miter"/><path d="M550.81,625.70L556.61,625.70L553.71,630.70Z" fill="#ff7f0e" stroke="#111" stroke-width="0.8" stroke-linejoin="miter"/><path d="M561.63,627.96L567.43,627.96L564.53,632.96Z" fill="#ff7f0e" stroke="#111" stroke-width="0.8" stroke-linejoin="miter"/><path d="M572.46,626.45L578.26,626.45L575.36,631.45Z" fill="#ff7f0e" stroke="#111" stroke-width="0.8" stroke-linejoin="miter"/><path d="M583.28,625.95L589.08,625.95L586.18,630.95Z" fill="#ff7f0e" stroke="#111" stroke-width="0.8" stroke-linejoin="miter"/><path d="M594.10,623.43L599.90,623.43L597.00,628.43Z" fill="#ff7f0e" stroke="#111" stroke-width="0.8" stroke-linejoin="miter"/><path d="M604.93,622.68L610.73,622.68L607.83,627.68Z" fill="#ff7f0e" stroke="#111" stroke-width="0.8" stroke-linejoin="miter"/><path d="M615.75,617.15L621.55,617.15L618.65,622.15Z" fill="#ff7f0e" stroke="#111" stroke-width="0.8" stroke-linejoin="miter"/><path d="M626.58,619.66L632.38,619.66L629.48,624.66Z" fill="#ff7f0e" stroke="#111" stroke-width="0.8" stroke-linejoin="miter"/>
<path d="M369.70,498.00H553.71V516.66H559.12V535.33H569.94V572.65H618.65V591.31H634.89V591.31" stroke="#1f77b4" stroke-width="1.3" stroke-dasharray="4.3 4.1" fill="none" stroke-opacity="0.85"/>
<path d="M369.70,498.00H505.00V516.66H542.88V535.33H634.89V535.33" stroke="#9467bd" stroke-width="1.2" stroke-dasharray="3.6 1.8" fill="none" stroke-opacity="0.85"/>
<path d="M369.70,498.00H532.06V516.66H634.89V516.66" stroke="#2ca02c" stroke-width="1.3" stroke-dasharray="3.0 3.3" fill="none" stroke-opacity="0.85"/>
<path d="M369.70,498.00H634.89V498.00" stroke="#ff7f0e" stroke-width="1.2" stroke-dasharray="1.1 1.1" fill="none" stroke-opacity="0.85"/>
</g>
<path d="M369.70,496.50V647.30H640.30V496.50Z" fill="none" stroke="#262626" stroke-width="0.9"/>
<path d="M367.10,647.30H369.70M367.10,622.17H369.70M367.10,597.03H369.70M367.10,571.90H369.70M367.10,546.77H369.70M367.10,521.63H369.70M367.10,496.50H369.70M369.70,647.30V649.90M396.76,647.30V649.90M423.82,647.30V649.90M450.88,647.30V649.90M477.94,647.30V649.90M505.00,647.30V649.90M532.06,647.30V649.90M559.12,647.30V649.90M586.18,647.30V649.90M613.24,647.30V649.90M640.30,647.30V649.90M640.30,647.30H642.90M640.30,617.44H642.90M640.30,587.58H642.90M640.30,557.72H642.90M640.30,527.86H642.90M640.30,498.00H642.90" stroke="#262626" stroke-width="0.8"/>
<text x="364.60" y="650.15" font-size="8.3" text-anchor="end" textLength="4.93" lengthAdjust="spacingAndGlyphs" fill="#111" stroke="#111" stroke-width="0.12">0</text>
<text x="364.60" y="625.02" font-size="8.3" text-anchor="end" textLength="4.93" lengthAdjust="spacingAndGlyphs" fill="#111" stroke="#111" stroke-width="0.12">1</text>
<text x="364.60" y="599.88" font-size="8.3" text-anchor="end" textLength="4.93" lengthAdjust="spacingAndGlyphs" fill="#111" stroke="#111" stroke-width="0.12">2</text>
<text x="364.60" y="574.75" font-size="8.3" text-anchor="end" textLength="4.93" lengthAdjust="spacingAndGlyphs" fill="#111" stroke="#111" stroke-width="0.12">3</text>
<text x="364.60" y="549.62" font-size="8.3" text-anchor="end" textLength="4.93" lengthAdjust="spacingAndGlyphs" fill="#111" stroke="#111" stroke-width="0.12">4</text>
<text x="364.60" y="524.48" font-size="8.3" text-anchor="end" textLength="4.93" lengthAdjust="spacingAndGlyphs" fill="#111" stroke="#111" stroke-width="0.12">5</text>
<text x="364.60" y="499.35" font-size="8.3" text-anchor="end" textLength="4.93" lengthAdjust="spacingAndGlyphs" fill="#111" stroke="#111" stroke-width="0.12">6</text>
<text x="369.70" y="658.20" font-size="8.3" text-anchor="middle" textLength="4.93" lengthAdjust="spacingAndGlyphs" fill="#111" stroke="#111" stroke-width="0.12">0</text>
<text x="396.76" y="658.20" font-size="8.3" text-anchor="middle" textLength="4.93" lengthAdjust="spacingAndGlyphs" fill="#111" stroke="#111" stroke-width="0.12">5</text>
<text x="423.82" y="658.20" font-size="8.3" text-anchor="middle" textLength="9.86" lengthAdjust="spacingAndGlyphs" fill="#111" stroke="#111" stroke-width="0.12">10</text>
<text x="450.88" y="658.20" font-size="8.3" text-anchor="middle" textLength="9.86" lengthAdjust="spacingAndGlyphs" fill="#111" stroke="#111" stroke-width="0.12">15</text>
<text x="477.94" y="658.20" font-size="8.3" text-anchor="middle" textLength="9.86" lengthAdjust="spacingAndGlyphs" fill="#111" stroke="#111" stroke-width="0.12">20</text>
<text x="505.00" y="658.20" font-size="8.3" text-anchor="middle" textLength="9.86" lengthAdjust="spacingAndGlyphs" fill="#111" stroke="#111" stroke-width="0.12">25</text>
<text x="532.06" y="658.20" font-size="8.3" text-anchor="middle" textLength="9.86" lengthAdjust="spacingAndGlyphs" fill="#111" stroke="#111" stroke-width="0.12">30</text>
<text x="559.12" y="658.20" font-size="8.3" text-anchor="middle" textLength="9.86" lengthAdjust="spacingAndGlyphs" fill="#111" stroke="#111" stroke-width="0.12">35</text>
<text x="586.18" y="658.20" font-size="8.3" text-anchor="middle" textLength="9.86" lengthAdjust="spacingAndGlyphs" fill="#111" stroke="#111" stroke-width="0.12">40</text>
<text x="613.24" y="658.20" font-size="8.3" text-anchor="middle" textLength="9.86" lengthAdjust="spacingAndGlyphs" fill="#111" stroke="#111" stroke-width="0.12">45</text>
<text x="640.30" y="658.20" font-size="8.3" text-anchor="middle" textLength="9.86" lengthAdjust="spacingAndGlyphs" fill="#111" stroke="#111" stroke-width="0.12">50</text>
<text x="645.60" y="650.15" font-size="8.3" text-anchor="start" textLength="12.33" lengthAdjust="spacingAndGlyphs" fill="#111" stroke="#111" stroke-width="0.12">0.0</text>
<text x="645.60" y="620.29" font-size="8.3" text-anchor="start" textLength="12.33" lengthAdjust="spacingAndGlyphs" fill="#111" stroke="#111" stroke-width="0.12">0.2</text>
<text x="645.60" y="590.43" font-size="8.3" text-anchor="start" textLength="12.33" lengthAdjust="spacingAndGlyphs" fill="#111" stroke="#111" stroke-width="0.12">0.4</text>
<text x="645.60" y="560.57" font-size="8.3" text-anchor="start" textLength="12.33" lengthAdjust="spacingAndGlyphs" fill="#111" stroke="#111" stroke-width="0.12">0.6</text>
<text x="645.60" y="530.71" font-size="8.3" text-anchor="start" textLength="12.33" lengthAdjust="spacingAndGlyphs" fill="#111" stroke="#111" stroke-width="0.12">0.8</text>
<text x="645.60" y="500.85" font-size="8.3" text-anchor="start" textLength="12.33" lengthAdjust="spacingAndGlyphs" fill="#111" stroke="#111" stroke-width="0.12">1.0</text>
<text x="505.00" y="492.80" font-size="10.0" text-anchor="middle" textLength="40.66" lengthAdjust="spacingAndGlyphs" fill="#111" stroke="#111" stroke-width="0.12">e) 20 Gy</text>
<text x="505.00" y="669.90" font-size="10.0" text-anchor="middle" textLength="56.10" lengthAdjust="spacingAndGlyphs" fill="#111" stroke="#111" stroke-width="0.12">Time [days]</text>
<text x="355.10" y="571.90" font-size="10.0" text-anchor="middle" textLength="109.34" lengthAdjust="spacingAndGlyphs" fill="#111" stroke="#111" stroke-width="0.12" transform="rotate(-90 355.10 571.90)">Relative tumor volume</text>
<text x="668.70" y="572.40" font-size="10.0" text-anchor="middle" textLength="142.67" lengthAdjust="spacingAndGlyphs" fill="#111" stroke="#111" stroke-width="0.12" transform="rotate(-90 668.70 572.40)">Fraction of animals remaining</text>
<text x="679.40" y="570.40" font-size="10.0" text-anchor="middle" textLength="66.25" lengthAdjust="spacingAndGlyphs" fill="#111" stroke="#111" stroke-width="0.12" transform="rotate(-90 679.40 570.40)">in experiment</text>
<path d="M236.00,206.60H256.30" stroke="#1f77b4" stroke-width="1.1"/>
<path d="M246.15,201.80V211.20" stroke="#1f77b4" stroke-width="1.35" stroke-opacity="0.7"/>
<circle cx="246.15" cy="206.60" r="2.35" fill="#1f77b4" stroke="#111" stroke-width="0.8"/>
<path d="M236.00,213.60H256.30" stroke="#1f77b4" stroke-width="1.3" stroke-dasharray="4.3 4.1" stroke-opacity="0.85"/>
<text x="263.70" y="210.20" font-size="10.0" text-anchor="start" textLength="59.59" lengthAdjust="spacingAndGlyphs" fill="#111" stroke="#111" stroke-width="0.12">control+PBS</text>
<path d="M329.20,206.60H349.50" stroke="#9467bd" stroke-width="1.1"/>
<path d="M339.35,201.80V211.20" stroke="#9467bd" stroke-width="1.35" stroke-opacity="0.7"/>
<path d="M337.95,204.15L339.35,205.55L340.75,204.15L341.80,205.20L340.40,206.60L341.80,208.00L340.75,209.05L339.35,207.65L337.95,209.05L336.90,208.00L338.30,206.60L336.90,205.20Z" fill="#6a4a8e" stroke="#1a1020" stroke-width="1.0" stroke-linejoin="round"/>
<path d="M329.20,213.60H349.50" stroke="#9467bd" stroke-width="1.2" stroke-dasharray="3.6 1.8" stroke-opacity="0.85"/>
<text x="356.30" y="210.20" font-size="10.0" text-anchor="start" textLength="71.80" lengthAdjust="spacingAndGlyphs" fill="#111" stroke="#111" stroke-width="0.12">control+aPDL1</text>
<path d="M64.60,440.20H84.90" stroke="#1f77b4" stroke-width="1.1"/>
<path d="M74.75,435.40V444.80" stroke="#1f77b4" stroke-width="1.35" stroke-opacity="0.7"/>
<circle cx="74.75" cy="440.20" r="2.35" fill="#1f77b4" stroke="#111" stroke-width="0.8"/>
<path d="M64.60,447.20H84.90" stroke="#1f77b4" stroke-width="1.3" stroke-dasharray="4.3 4.1" stroke-opacity="0.85"/>
<text x="92.80" y="443.80" font-size="10.0" text-anchor="start" textLength="47.04" lengthAdjust="spacingAndGlyphs" fill="#111" stroke="#111" stroke-width="0.12">xray+PBS</text>
<path d="M158.10,440.20H178.40" stroke="#2ca02c" stroke-width="1.1"/>
<path d="M168.25,435.40V444.80" stroke="#2ca02c" stroke-width="1.35" stroke-opacity="0.7"/>
<rect x="165.95" y="437.90" width="4.60" height="4.60" fill="#2ca02c" stroke="#111" stroke-width="0.8"/>
<path d="M158.10,447.20H178.40" stroke="#2ca02c" stroke-width="1.3" stroke-dasharray="3.0 3.3" stroke-opacity="0.85"/>
<text x="185.90" y="443.80" font-size="10.0" text-anchor="start" textLength="57.17" lengthAdjust="spacingAndGlyphs" fill="#111" stroke="#111" stroke-width="0.12">proton+PBS</text>
<path d="M64.60,459.00H84.90" stroke="#9467bd" stroke-width="1.1"/>
<path d="M74.75,454.20V463.60" stroke="#9467bd" stroke-width="1.35" stroke-opacity="0.7"/>
<path d="M73.35,456.55L74.75,457.95L76.15,456.55L77.20,457.60L75.80,459.00L77.20,460.40L76.15,461.45L74.75,460.05L73.35,461.45L72.30,460.40L73.70,459.00L72.30,457.60Z" fill="#6a4a8e" stroke="#1a1020" stroke-width="1.0" stroke-linejoin="round"/>
<path d="M64.60,466.00H84.90" stroke="#9467bd" stroke-width="1.2" stroke-dasharray="3.6 1.8" stroke-opacity="0.85"/>
<text x="92.80" y="462.60" font-size="10.0" text-anchor="start" textLength="59.13" lengthAdjust="spacingAndGlyphs" fill="#111" stroke="#111" stroke-width="0.12">xray+aPDL1</text>
<path d="M158.10,459.00H178.40" stroke="#ff7f0e" stroke-width="1.1"/>
<path d="M168.25,454.20V463.60" stroke="#ff7f0e" stroke-width="1.35" stroke-opacity="0.7"/>
<path d="M165.35,457.00L171.15,457.00L168.25,462.00Z" fill="#ff7f0e" stroke="#111" stroke-width="0.8" stroke-linejoin="miter"/>
<path d="M158.10,466.00H178.40" stroke="#ff7f0e" stroke-width="1.2" stroke-dasharray="1.1 1.1" stroke-opacity="0.85"/>
<text x="185.90" y="462.60" font-size="10.0" text-anchor="start" textLength="69.26" lengthAdjust="spacingAndGlyphs" fill="#111" stroke="#111" stroke-width="0.12">proton+aPDL1</text>
<path d="M408.30,440.20H428.60" stroke="#1f77b4" stroke-width="1.1"/>
<path d="M418.45,435.40V444.80" stroke="#1f77b4" stroke-width="1.35" stroke-opacity="0.7"/>
<circle cx="418.45" cy="440.20" r="2.35" fill="#1f77b4" stroke="#111" stroke-width="0.8"/>
<path d="M408.30,447.20H428.60" stroke="#1f77b4" stroke-width="1.3" stroke-dasharray="4.3 4.1" stroke-opacity="0.85"/>
<text x="436.50" y="443.80" font-size="10.0" text-anchor="start" textLength="47.04" lengthAdjust="spacingAndGlyphs" fill="#111" stroke="#111" stroke-width="0.12">xray+PBS</text>
<path d="M501.80,440.20H522.10" stroke="#2ca02c" stroke-width="1.1"/>
<path d="M511.95,435.40V444.80" stroke="#2ca02c" stroke-width="1.35" stroke-opacity="0.7"/>
<rect x="509.65" y="437.90" width="4.60" height="4.60" fill="#2ca02c" stroke="#111" stroke-width="0.8"/>
<path d="M501.80,447.20H522.10" stroke="#2ca02c" stroke-width="1.3" stroke-dasharray="3.0 3.3" stroke-opacity="0.85"/>
<text x="529.60" y="443.80" font-size="10.0" text-anchor="start" textLength="57.17" lengthAdjust="spacingAndGlyphs" fill="#111" stroke="#111" stroke-width="0.12">proton+PBS</text>
<path d="M408.30,459.00H428.60" stroke="#9467bd" stroke-width="1.1"/>
<path d="M418.45,454.20V463.60" stroke="#9467bd" stroke-width="1.35" stroke-opacity="0.7"/>
<path d="M417.05,456.55L418.45,457.95L419.85,456.55L420.90,457.60L419.50,459.00L420.90,460.40L419.85,461.45L418.45,460.05L417.05,461.45L416.00,460.40L417.40,459.00L416.00,457.60Z" fill="#6a4a8e" stroke="#1a1020" stroke-width="1.0" stroke-linejoin="round"/>
<path d="M408.30,466.00H428.60" stroke="#9467bd" stroke-width="1.2" stroke-dasharray="3.6 1.8" stroke-opacity="0.85"/>
<text x="436.50" y="462.60" font-size="10.0" text-anchor="start" textLength="59.13" lengthAdjust="spacingAndGlyphs" fill="#111" stroke="#111" stroke-width="0.12">xray+aPDL1</text>
<path d="M501.80,459.00H522.10" stroke="#ff7f0e" stroke-width="1.1"/>
<path d="M511.95,454.20V463.60" stroke="#ff7f0e" stroke-width="1.35" stroke-opacity="0.7"/>
<path d="M509.05,457.00L514.85,457.00L511.95,462.00Z" fill="#ff7f0e" stroke="#111" stroke-width="0.8" stroke-linejoin="miter"/>
<path d="M501.80,466.00H522.10" stroke="#ff7f0e" stroke-width="1.2" stroke-dasharray="1.1 1.1" stroke-opacity="0.85"/>
<text x="529.60" y="462.60" font-size="10.0" text-anchor="start" textLength="69.26" lengthAdjust="spacingAndGlyphs" fill="#111" stroke="#111" stroke-width="0.12">proton+aPDL1</text>
<path d="M64.60,692.30H84.90" stroke="#1f77b4" stroke-width="1.1"/>
<path d="M74.75,687.50V696.90" stroke="#1f77b4" stroke-width="1.35" stroke-opacity="0.7"/>
<circle cx="74.75" cy="692.30" r="2.35" fill="#1f77b4" stroke="#111" stroke-width="0.8"/>
<path d="M64.60,699.30H84.90" stroke="#1f77b4" stroke-width="1.3" stroke-dasharray="4.3 4.1" stroke-opacity="0.85"/>
<text x="92.80" y="695.90" font-size="10.0" text-anchor="start" textLength="47.04" lengthAdjust="spacingAndGlyphs" fill="#111" stroke="#111" stroke-width="0.12">xray+PBS</text>
<path d="M158.10,692.30H178.40" stroke="#2ca02c" stroke-width="1.1"/>
<path d="M168.25,687.50V696.90" stroke="#2ca02c" stroke-width="1.35" stroke-opacity="0.7"/>
<rect x="165.95" y="690.00" width="4.60" height="4.60" fill="#2ca02c" stroke="#111" stroke-width="0.8"/>
<path d="M158.10,699.30H178.40" stroke="#2ca02c" stroke-width="1.3" stroke-dasharray="3.0 3.3" stroke-opacity="0.85"/>
<text x="185.90" y="695.90" font-size="10.0" text-anchor="start" textLength="57.17" lengthAdjust="spacingAndGlyphs" fill="#111" stroke="#111" stroke-width="0.12">proton+PBS</text>
<path d="M64.60,711.10H84.90" stroke="#9467bd" stroke-width="1.1"/>
<path d="M74.75,706.30V715.70" stroke="#9467bd" stroke-width="1.35" stroke-opacity="0.7"/>
<path d="M73.35,708.65L74.75,710.05L76.15,708.65L77.20,709.70L75.80,711.10L77.20,712.50L76.15,713.55L74.75,712.15L73.35,713.55L72.30,712.50L73.70,711.10L72.30,709.70Z" fill="#6a4a8e" stroke="#1a1020" stroke-width="1.0" stroke-linejoin="round"/>
<path d="M64.60,718.10H84.90" stroke="#9467bd" stroke-width="1.2" stroke-dasharray="3.6 1.8" stroke-opacity="0.85"/>
<text x="92.80" y="714.70" font-size="10.0" text-anchor="start" textLength="59.13" lengthAdjust="spacingAndGlyphs" fill="#111" stroke="#111" stroke-width="0.12">xray+aPDL1</text>
<path d="M158.10,711.10H178.40" stroke="#ff7f0e" stroke-width="1.1"/>
<path d="M168.25,706.30V715.70" stroke="#ff7f0e" stroke-width="1.35" stroke-opacity="0.7"/>
<path d="M165.35,709.10L171.15,709.10L168.25,714.10Z" fill="#ff7f0e" stroke="#111" stroke-width="0.8" stroke-linejoin="miter"/>
<path d="M158.10,718.10H178.40" stroke="#ff7f0e" stroke-width="1.2" stroke-dasharray="1.1 1.1" stroke-opacity="0.85"/>
<text x="185.90" y="714.70" font-size="10.0" text-anchor="start" textLength="69.26" lengthAdjust="spacingAndGlyphs" fill="#111" stroke="#111" stroke-width="0.12">proton+aPDL1</text>
<path d="M408.30,689.80H428.60" stroke="#1f77b4" stroke-width="1.1"/>
<path d="M418.45,685.00V694.40" stroke="#1f77b4" stroke-width="1.35" stroke-opacity="0.7"/>
<circle cx="418.45" cy="689.80" r="2.35" fill="#1f77b4" stroke="#111" stroke-width="0.8"/>
<path d="M408.30,696.80H428.60" stroke="#1f77b4" stroke-width="1.3" stroke-dasharray="4.3 4.1" stroke-opacity="0.85"/>
<text x="436.50" y="693.40" font-size="10.0" text-anchor="start" textLength="47.04" lengthAdjust="spacingAndGlyphs" fill="#111" stroke="#111" stroke-width="0.12">xray+PBS</text>
<path d="M501.80,689.80H522.10" stroke="#2ca02c" stroke-width="1.1"/>
<path d="M511.95,685.00V694.40" stroke="#2ca02c" stroke-width="1.35" stroke-opacity="0.7"/>
<rect x="509.65" y="687.50" width="4.60" height="4.60" fill="#2ca02c" stroke="#111" stroke-width="0.8"/>
<path d="M501.80,696.80H522.10" stroke="#2ca02c" stroke-width="1.3" stroke-dasharray="3.0 3.3" stroke-opacity="0.85"/>
<text x="529.60" y="693.40" font-size="10.0" text-anchor="start" textLength="57.17" lengthAdjust="spacingAndGlyphs" fill="#111" stroke="#111" stroke-width="0.12">proton+PBS</text>
<path d="M408.30,708.60H428.60" stroke="#9467bd" stroke-width="1.1"/>
<path d="M418.45,703.80V713.20" stroke="#9467bd" stroke-width="1.35" stroke-opacity="0.7"/>
<path d="M417.05,706.15L418.45,707.55L419.85,706.15L420.90,707.20L419.50,708.60L420.90,710.00L419.85,711.05L418.45,709.65L417.05,711.05L416.00,710.00L417.40,708.60L416.00,707.20Z" fill="#6a4a8e" stroke="#1a1020" stroke-width="1.0" stroke-linejoin="round"/>
<path d="M408.30,715.60H428.60" stroke="#9467bd" stroke-width="1.2" stroke-dasharray="3.6 1.8" stroke-opacity="0.85"/>
<text x="436.50" y="712.20" font-size="10.0" text-anchor="start" textLength="59.13" lengthAdjust="spacingAndGlyphs" fill="#111" stroke="#111" stroke-width="0.12">xray+aPDL1</text>
<path d="M501.80,708.60H522.10" stroke="#ff7f0e" stroke-width="1.1"/>
<path d="M511.95,703.80V713.20" stroke="#ff7f0e" stroke-width="1.35" stroke-opacity="0.7"/>
<path d="M509.05,706.60L514.85,706.60L511.95,711.60Z" fill="#ff7f0e" stroke="#111" stroke-width="0.8" stroke-linejoin="miter"/>
<path d="M501.80,715.60H522.10" stroke="#ff7f0e" stroke-width="1.2" stroke-dasharray="1.1 1.1" stroke-opacity="0.85"/>
<text x="529.60" y="712.20" font-size="10.0" text-anchor="start" textLength="69.26" lengthAdjust="spacingAndGlyphs" fill="#111" stroke="#111" stroke-width="0.12">proton+aPDL1</text>
</svg>
</body></html>
